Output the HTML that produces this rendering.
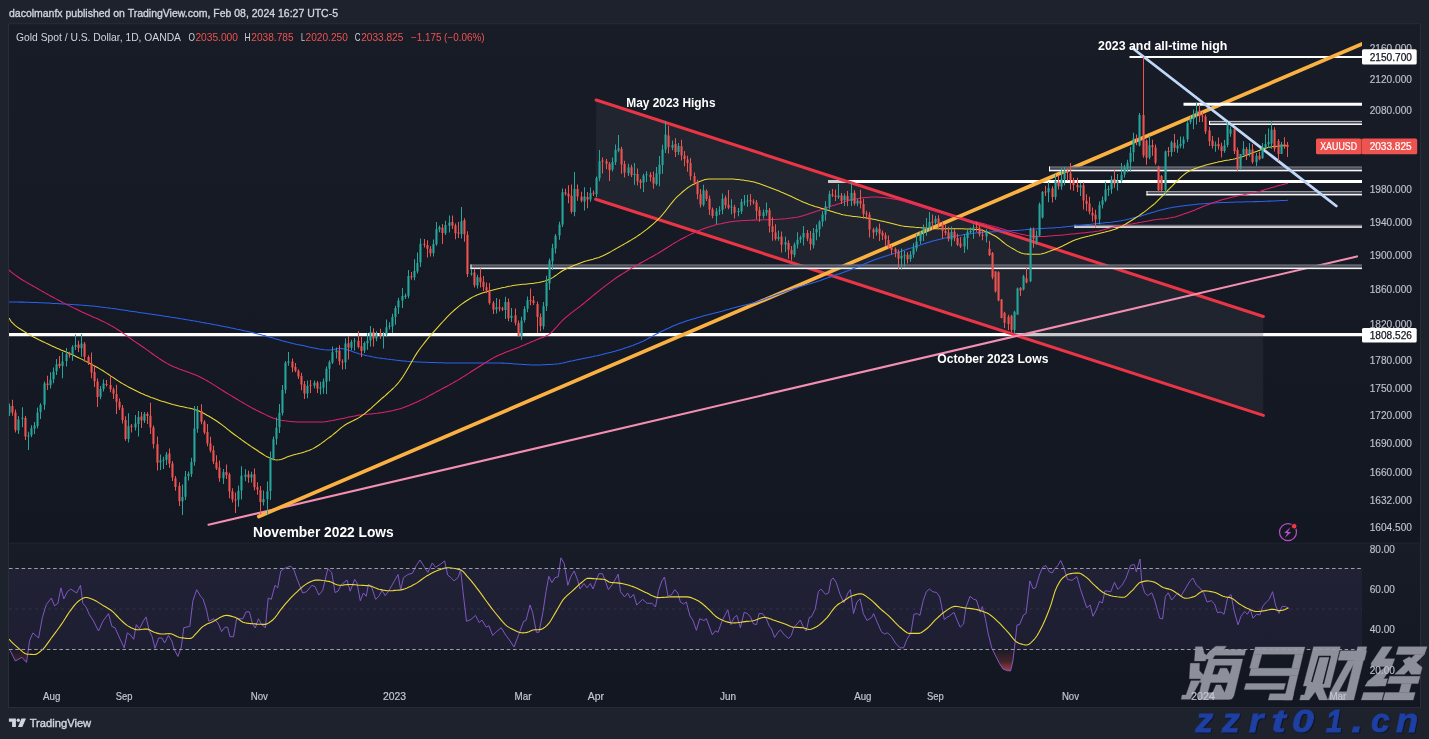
<!DOCTYPE html>
<html><head><meta charset="utf-8"><title>XAUUSD chart</title>
<style>
html,body{margin:0;padding:0;background:#1e222d;}
body{width:1429px;height:739px;overflow:hidden;position:relative;font-family:"Liberation Sans", sans-serif;}
</style></head><body>
<svg width="1429" height="739" viewBox="0 0 1429 739" style="position:absolute;left:0;top:0;display:block;will-change:transform"><rect x="0" y="0" width="1429" height="739" fill="#1e222d"/>
<defs><linearGradient id="gm" x1="0" y1="24.5" x2="0" y2="542.5" gradientUnits="userSpaceOnUse"><stop offset="0" stop-color="#181c27"/><stop offset="1" stop-color="#131722"/></linearGradient><linearGradient id="gr" x1="0" y1="543" x2="0" y2="683" gradientUnits="userSpaceOnUse"><stop offset="0" stop-color="#181c27"/><stop offset="1" stop-color="#131722"/></linearGradient></defs>
<rect x="8.5" y="24.0" width="1412.0" height="683.6" fill="#131722" stroke="#2a2e39" stroke-width="1"/>
<rect x="9.0" y="24.5" width="1411.0" height="518.0" fill="url(#gm)"/>
<rect x="9.0" y="543" width="1411.0" height="140" fill="url(#gr)"/>
<line x1="9.0" y1="543" x2="1420.0" y2="543" stroke="#2a2e39" stroke-opacity="0.55" stroke-width="1"/>
<rect x="9.0" y="568.5" width="1353.0" height="81" fill="#7e57c2" fill-opacity="0.10"/>
<defs><clipPath id="plot"><rect x="9" y="25" width="1353" height="517.5"/></clipPath><clipPath id="rsi"><rect x="9" y="543" width="1353" height="140"/></clipPath><linearGradient id="os" x1="0" y1="649.5" x2="0" y2="672" gradientUnits="userSpaceOnUse"><stop offset="0" stop-color="#ef5350" stop-opacity="0.03"/><stop offset="0.55" stop-color="#ef5350" stop-opacity="0.22"/><stop offset="1" stop-color="#ef5350" stop-opacity="0.72"/></linearGradient></defs>
<g clip-path="url(#plot)">
<line x1="8.5" y1="334.6" x2="1362" y2="334.6" stroke="#ffffff" stroke-width="3.2"/>
<line x1="1129.5" y1="57" x2="1362" y2="57" stroke="#ffffff" stroke-width="1.9"/>
<line x1="828" y1="181.5" x2="1362" y2="181.5" stroke="#ffffff" stroke-width="3.1"/>
<polygon points="596.2,100 1263.3,316.5 1263.3,415.4 595.7,199.2" fill="#3c3f4a" fill-opacity="0.28"/>
<line x1="596.2" y1="100.0" x2="1263.3" y2="316.5" stroke="#ea3546" stroke-width="3.1" stroke-linecap="round"/>
<line x1="595.7" y1="199.2" x2="1263.3" y2="415.4" stroke="#ea3546" stroke-width="3.1" stroke-linecap="round"/>
<line x1="208.5" y1="524.8" x2="1357" y2="256.4" stroke="#f48fb1" stroke-width="2.1" stroke-linecap="round"/>
<line x1="258.8" y1="516.5" x2="1362" y2="43.9" stroke="#fbb142" stroke-width="3.7" stroke-linecap="round"/>
<line x1="1183.5" y1="104.3" x2="1362" y2="104.3" stroke="#ffffff" stroke-width="3"/>
<rect x="1209" y="120.9" width="153" height="4.1" fill="#4c4f5a" fill-opacity="0.93"/>
<rect x="1209" y="123.5" width="153" height="1.5" fill="#ffffff" fill-opacity="0.95"/>
<rect x="1209" y="120.9" width="153" height="1" fill="#ffffff" fill-opacity="0.7"/>
<rect x="1209" y="120.9" width="1" height="4.1" fill="#ffffff"/>
<rect x="1049" y="166.5" width="313" height="4.8" fill="#4c4f5a" fill-opacity="0.93"/>
<rect x="1049" y="169.8" width="313" height="1.5" fill="#ffffff" fill-opacity="0.95"/>
<rect x="1049" y="166.5" width="313" height="1" fill="#ffffff" fill-opacity="0.3"/>
<rect x="1049" y="166.5" width="1" height="4.8" fill="#ffffff"/>
<rect x="1146.5" y="191.1" width="215.5" height="4.3" fill="#4c4f5a" fill-opacity="0.93"/>
<rect x="1146.5" y="193.9" width="215.5" height="1.5" fill="#ffffff" fill-opacity="0.95"/>
<rect x="1146.5" y="191.1" width="215.5" height="1" fill="#ffffff" fill-opacity="0.5"/>
<rect x="1146.5" y="191.1" width="1" height="4.3" fill="#ffffff"/>
<rect x="1074.5" y="224.8" width="287.5" height="3" fill="#4c4f5a" fill-opacity="0.93"/>
<rect x="1074.5" y="226.3" width="287.5" height="1.5" fill="#ffffff" fill-opacity="0.95"/>
<rect x="1074.5" y="224.8" width="287.5" height="1" fill="#ffffff" fill-opacity="0.3"/>
<rect x="1074.5" y="224.8" width="1" height="3" fill="#ffffff"/>
<rect x="470.5" y="264.5" width="891.5" height="4.6" fill="#4c4f5a" fill-opacity="0.93"/>
<rect x="470.5" y="267.6" width="891.5" height="1.5" fill="#ffffff" fill-opacity="0.95"/>
<rect x="470.5" y="264.5" width="891.5" height="1" fill="#ffffff" fill-opacity="0.3"/>
<rect x="470.5" y="264.5" width="1" height="4.6" fill="#ffffff"/>
<line x1="1133" y1="48.5" x2="1336.3" y2="206" stroke="#c0d8f7" stroke-width="2.8" stroke-linecap="round"/>
<polyline points="9,302 11,302 13,302 15,302 17,302 19,302.1 21,302.1 23,302.1 25,302.2 27,302.2 29,302.3 31,302.4 33,302.4 35,302.5 37,302.6 39,302.7 41,302.8 43,302.8 45,302.9 47,303 49,303.1 51,303.2 53,303.4 55,303.5 57,303.6 59,303.7 61,303.8 63,303.9 65,304.1 67,304.2 69,304.3 71,304.4 73,304.6 75,304.7 77,304.8 79,304.9 81,305.1 83,305.2 85,305.4 87,305.5 89,305.7 91,305.9 93,306.1 95,306.3 97,306.5 99,306.7 101,307 103,307.2 105,307.5 107,307.7 109,308 111,308.3 113,308.5 115,308.8 117,309.1 119,309.4 121,309.7 123,310 125,310.3 127,310.6 129,310.9 131,311.2 133,311.5 135,311.8 137,312.1 139,312.4 141,312.7 143,313 145,313.3 147,313.6 149,313.9 151,314.1 153,314.4 155,314.7 157,315 159,315.3 161,315.6 163,315.9 165,316.2 167,316.5 169,316.8 171,317.2 173,317.5 175,317.8 177,318.1 179,318.4 181,318.8 183,319.1 185,319.4 187,319.8 189,320.1 191,320.4 193,320.8 195,321.1 197,321.5 199,321.8 201,322.2 203,322.5 205,322.9 207,323.3 209,323.6 211,324 213,324.4 215,324.8 217,325.1 219,325.5 221,325.9 223,326.3 225,326.7 227,327.1 229,327.5 231,327.9 233,328.3 235,328.7 237,329.2 239,329.6 241,330 243,330.4 245,330.9 247,331.3 249,331.8 251,332.2 253,332.7 255,333.2 257,333.7 259,334.2 261,334.7 263,335.3 265,335.8 267,336.4 269,337 271,337.5 273,338.1 275,338.7 277,339.2 279,339.8 281,340.4 283,340.9 285,341.4 287,342 289,342.5 291,343 293,343.5 295,343.9 297,344.4 299,344.8 301,345.2 303,345.6 305,346.1 307,346.5 309,347 311,347.4 313,347.8 315,348.2 317,348.6 319,349 321,349.3 323,349.6 325,349.8 327,349.9 329,350 331,350 333,349.7 335,349.2 337,348.8 339,348.5 341,348.5 343,348.7 345,349.1 347,349.7 349,350.3 351,351 353,351.7 355,352.5 357,353.1 359,353.7 361,354.2 363,354.7 365,355.2 367,355.7 369,356.1 371,356.6 373,357 375,357.3 377,357.7 379,358 381,358.3 383,358.6 385,358.8 387,359.1 389,359.3 391,359.6 393,359.8 395,360.1 397,360.3 399,360.5 401,360.7 403,360.9 405,361.1 407,361.3 409,361.4 411,361.6 413,361.7 415,361.8 417,361.9 419,362 421,362.1 423,362.2 425,362.2 427,362.3 429,362.4 431,362.5 433,362.5 435,362.6 437,362.7 439,362.7 441,362.8 443,362.8 445,362.9 447,362.9 449,362.9 451,363 453,363 455,363 457,363 459,363 461,363 463,363 465,363 467,363 469,363 471,363 473,363 475,363 477,363 479,363 481,363 483,363 485,363 487,363 489,363 491,363 493,363 495,363 497,363 499,363 501,363.1 503,363.1 505,363.2 507,363.3 509,363.5 511,363.6 513,363.7 515,363.9 517,364 519,364.2 521,364.3 523,364.5 525,364.6 527,364.7 529,364.8 531,364.9 533,365 535,365 537,365 539,365 541,364.9 543,364.8 545,364.8 547,364.6 549,364.5 551,364.4 553,364.2 555,364.1 557,363.9 559,363.7 561,363.3 563,363 565,362.5 567,362.1 569,361.6 571,361.1 573,360.7 575,360.2 577,359.8 579,359.4 581,359 583,358.6 585,358.2 587,357.8 589,357.4 591,357 593,356.6 595,356.1 597,355.7 599,355.2 601,354.8 603,354.3 605,353.8 607,353.3 609,352.8 611,352.3 613,351.7 615,351.2 617,350.6 619,350 621,349.4 623,348.8 625,348.1 627,347.5 629,346.8 631,346.1 633,345.4 635,344.6 637,343.8 639,343 641,342.1 643,341.2 645,340.2 647,339.1 649,338 651,336.9 653,335.9 655,334.8 657,333.7 659,332.8 661,331.8 663,330.8 665,329.8 667,328.8 669,327.9 671,327 673,326.1 675,325.2 677,324.4 679,323.6 681,322.9 683,322.2 685,321.5 687,320.8 689,320.2 691,319.6 693,319 695,318.4 697,317.8 699,317.2 701,316.7 703,316.1 705,315.6 707,315.1 709,314.6 711,314.1 713,313.6 715,313 717,312.5 719,312 721,311.4 723,310.9 725,310.3 727,309.7 729,309.2 731,308.6 733,308.1 735,307.5 737,307 739,306.5 741,306 743,305.5 745,305 747,304.5 749,304.1 751,303.6 753,303 755,302.5 757,301.9 759,301.3 761,300.6 763,299.9 765,299.1 767,298.4 769,297.6 771,296.9 773,296.1 775,295.4 777,294.6 779,293.9 781,293.2 783,292.5 785,291.8 787,291.1 789,290.4 791,289.7 793,289 795,288.3 797,287.7 799,287 801,286.4 803,285.8 805,285.2 807,284.6 809,284 811,283.4 813,282.8 815,282.2 817,281.5 819,280.9 821,280.2 823,279.5 825,278.8 827,278.1 829,277.4 831,276.7 833,276 835,275.3 837,274.6 839,273.9 841,273.2 843,272.5 845,271.7 847,271 849,270.3 851,269.5 853,268.8 855,268 857,267.2 859,266.4 861,265.5 863,264.6 865,263.7 867,262.8 869,262 871,261.2 873,260.4 875,259.6 877,258.9 879,258.2 881,257.6 883,256.9 885,256.3 887,255.7 889,255.1 891,254.5 893,253.8 895,253.2 897,252.5 899,251.9 901,251.2 903,250.6 905,249.9 907,249.2 909,248.6 911,248 913,247.3 915,246.7 917,246 919,245.4 921,244.7 923,244.1 925,243.4 927,242.8 929,242.2 931,241.6 933,241 935,240.4 937,239.9 939,239.4 941,238.9 943,238.5 945,238.1 947,237.7 949,237.3 951,236.9 953,236.5 955,236.2 957,235.8 959,235.5 961,235.2 963,234.8 965,234.5 967,234.2 969,233.9 971,233.6 973,233.3 975,233.1 977,232.8 979,232.7 981,232.5 983,232.4 985,232.2 987,232.1 989,232 991,231.9 993,231.8 995,231.7 997,231.6 999,231.4 1001,231.3 1003,231.2 1005,231.1 1007,231 1009,230.9 1011,230.7 1013,230.6 1015,230.5 1017,230.4 1019,230.2 1021,230.1 1023,229.9 1025,229.8 1027,229.6 1029,229.4 1031,229.3 1033,229.1 1035,229 1037,228.8 1039,228.7 1041,228.6 1043,228.5 1045,228.3 1047,228.2 1049,228.1 1051,228 1053,227.9 1055,227.7 1057,227.6 1059,227.4 1061,227.3 1063,227.1 1065,226.9 1067,226.6 1069,226.4 1071,226.2 1073,226 1075,225.8 1077,225.6 1079,225.4 1081,225.2 1083,225 1085,224.8 1087,224.6 1089,224.4 1091,224.2 1093,224 1095,223.8 1097,223.6 1099,223.4 1101,223.2 1103,223 1105,222.8 1107,222.6 1109,222.4 1111,222.2 1113,221.9 1115,221.6 1117,221.4 1119,221 1121,220.7 1123,220.3 1125,219.9 1127,219.4 1129,219 1131,218.5 1133,218 1135,217.5 1137,217 1139,216.5 1141,215.9 1143,215.3 1145,214.7 1147,214 1149,213.4 1151,212.8 1153,212.2 1155,211.7 1157,211.1 1159,210.6 1161,210 1163,209.5 1165,209 1167,208.5 1169,208 1171,207.7 1173,207.3 1175,207 1177,206.7 1179,206.4 1181,206.1 1183,205.9 1185,205.6 1187,205.4 1189,205.1 1191,204.9 1193,204.7 1195,204.5 1197,204.3 1199,204.1 1201,203.9 1203,203.7 1205,203.6 1207,203.4 1209,203.3 1211,203.2 1213,203 1215,202.9 1217,202.8 1219,202.7 1221,202.6 1223,202.5 1225,202.5 1227,202.4 1229,202.3 1231,202.2 1233,202.2 1235,202.1 1237,202 1239,202 1241,201.9 1243,201.9 1245,201.8 1247,201.8 1249,201.8 1251,201.7 1253,201.7 1255,201.6 1257,201.6 1259,201.5 1261,201.4 1263,201.4 1265,201.3 1267,201.2 1269,201.1 1271,201.1 1273,201 1275,200.9 1277,200.8 1279,200.7 1281,200.6 1283,200.5 1285,200.4 1287,200.3 1288,200.2" fill="none" stroke="#2b62f0" stroke-width="1.05" stroke-linejoin="round"/>
<polyline points="9,270 11,271.8 13,273.4 15,274.9 17,276.3 19,277.7 21,279 23,280.2 25,281.4 27,282.6 29,283.8 31,284.9 33,286 35,287.1 37,288.3 39,289.4 41,290.6 43,291.7 45,292.9 47,294 49,295.1 51,296.2 53,297.3 55,298.4 57,299.4 59,300.5 61,301.5 63,302.6 65,303.6 67,304.6 69,305.6 71,306.6 73,307.6 75,308.6 77,309.5 79,310.5 81,311.5 83,312.4 85,313.3 87,314.2 89,315.1 91,316 93,316.9 95,317.8 97,318.6 99,319.5 101,320.5 103,321.4 105,322.4 107,323.4 109,324.5 111,325.6 113,326.7 115,327.9 117,329.2 119,330.5 121,331.8 123,333.2 125,334.6 127,336 129,337.4 131,338.8 133,340.2 135,341.6 137,343 139,344.3 141,345.7 143,347 145,348.4 147,349.9 149,351.3 151,352.8 153,354.2 155,355.6 157,357 159,358.4 161,359.7 163,361 165,362.2 167,363.4 169,364.5 171,365.5 173,366.4 175,367.3 177,368.1 179,368.9 181,369.6 183,370.4 185,371.1 187,371.8 189,372.5 191,373.2 193,374 195,374.8 197,375.6 199,376.5 201,377.5 203,378.5 205,379.6 207,380.7 209,381.9 211,383.1 213,384.4 215,385.6 217,386.9 219,388.2 221,389.4 223,390.7 225,392 227,393.2 229,394.4 231,395.6 233,396.8 235,398 237,399.2 239,400.4 241,401.6 243,402.8 245,403.9 247,405.1 249,406.3 251,407.4 253,408.5 255,409.5 257,410.6 259,411.5 261,412.5 263,413.4 265,414.4 267,415.4 269,416.3 271,417.2 273,418 275,418.7 277,419.3 279,419.8 281,420.2 283,420.5 285,420.8 287,421 289,421.3 291,421.5 293,421.7 295,421.8 297,421.9 299,422 301,422 303,422 305,422 307,422 309,422 311,422 313,422 315,422 317,422 319,422 321,422 323,421.9 325,421.7 327,421.4 329,421.1 331,420.7 333,420.4 335,420 337,419.6 339,419.2 341,418.8 343,418.4 345,418 347,417.6 349,417.1 351,416.7 353,416.3 355,415.9 357,415.5 359,415.1 361,414.9 363,414.6 365,414.4 367,414.2 369,414 371,413.9 373,413.7 375,413.5 377,413.3 379,413 381,412.7 383,412.4 385,412.1 387,411.7 389,411.3 391,410.9 393,410.5 395,410 397,409.5 399,409 401,408.4 403,407.8 405,407.1 407,406.3 409,405.5 411,404.6 413,403.7 415,402.8 417,401.9 419,401 421,400.1 423,399.1 425,398.1 427,397 429,395.9 431,394.8 433,393.7 435,392.6 437,391.5 439,390.5 441,389.4 443,388.3 445,387.2 447,386.2 449,385.1 451,384 453,382.9 455,381.7 457,380.6 459,379.4 461,378.2 463,376.9 465,375.7 467,374.4 469,373.1 471,371.8 473,370.5 475,369.2 477,368 479,366.8 481,365.5 483,364.2 485,362.9 487,361.7 489,360.4 491,359.2 493,358.1 495,357 497,356 499,355.1 501,354.2 503,353.4 505,352.6 507,351.8 509,351.1 511,350.3 513,349.6 515,348.8 517,348 519,347.2 521,346.3 523,345.5 525,344.7 527,343.8 529,343 531,342.1 533,341.3 535,340.4 537,339.6 539,338.8 541,338.1 543,337.4 545,336.5 547,335.6 549,334.4 551,332.8 553,330.9 555,328.7 557,326.5 559,324.2 561,322 563,319.9 565,318.1 567,316.4 569,314.8 571,313.2 573,311.7 575,310.2 577,308.7 579,307.1 581,305.6 583,304 585,302.4 587,300.7 589,299 591,297.4 593,295.7 595,294 597,292.4 599,290.8 601,289.2 603,287.7 605,286.1 607,284.6 609,283.1 611,281.6 613,280.2 615,278.7 617,277.3 619,276 621,274.7 623,273.4 625,272.2 627,271 629,269.8 631,268.6 633,267.5 635,266.3 637,265.2 639,264 641,262.8 643,261.7 645,260.6 647,259.5 649,258.4 651,257.3 653,256.2 655,255 657,253.9 659,252.7 661,251.5 663,250.3 665,249 667,247.7 669,246.4 671,245.2 673,243.9 675,242.7 677,241.6 679,240.4 681,239.3 683,238.3 685,237.2 687,236.1 689,235.1 691,234.1 693,233.2 695,232.3 697,231.4 699,230.6 701,229.8 703,229 705,228.3 707,227.6 709,226.9 711,226.3 713,225.7 715,225.1 717,224.6 719,224.1 721,223.7 723,223.2 725,222.8 727,222.4 729,222 731,221.7 733,221.4 735,221.2 737,221 739,220.9 741,220.7 743,220.6 745,220.5 747,220.4 749,220.3 751,220.2 753,220.1 755,220.1 757,220 759,219.9 761,219.9 763,219.8 765,219.8 767,219.7 769,219.7 771,219.6 773,219.5 775,219.4 777,219.3 779,219.2 781,219.1 783,218.9 785,218.8 787,218.6 789,218.3 791,218.1 793,217.8 795,217.5 797,217.2 799,216.8 801,216.3 803,215.8 805,215.1 807,214.5 809,213.8 811,213.1 813,212.4 815,211.7 817,211.1 819,210.4 821,209.7 823,209 825,208.4 827,207.7 829,207 831,206.3 833,205.6 835,205 837,204.3 839,203.7 841,203 843,202.3 845,201.6 847,200.9 849,200.3 851,199.8 853,199.4 855,199 857,198.7 859,198.4 861,198.1 863,197.8 865,197.6 867,197.4 869,197.2 871,197.1 873,197 875,197 877,197 879,197.2 881,197.3 883,197.5 885,197.7 887,198 889,198.3 891,198.6 893,198.9 895,199.2 897,199.5 899,200 901,200.5 903,201.1 905,201.7 907,202.3 909,203 911,203.6 913,204.2 915,204.8 917,205.4 919,206 921,206.7 923,207.3 925,208 927,208.6 929,209.3 931,209.9 933,210.5 935,211.1 937,211.7 939,212.3 941,212.9 943,213.4 945,214 947,214.6 949,215.1 951,215.7 953,216.2 955,216.7 957,217.3 959,217.8 961,218.3 963,218.8 965,219.3 967,219.8 969,220.2 971,220.7 973,221.2 975,221.6 977,222.1 979,222.6 981,223.1 983,223.6 985,224.1 987,224.7 989,225.2 991,225.7 993,226.2 995,226.8 997,227.3 999,227.9 1001,228.5 1003,229.1 1005,229.8 1007,230.4 1009,231.1 1011,231.7 1013,232.3 1015,232.8 1017,233.3 1019,233.8 1021,234.2 1023,234.6 1025,235 1027,235.4 1029,235.8 1031,236.1 1033,236.4 1035,236.5 1037,236.6 1039,236.6 1041,236.5 1043,236.5 1045,236.4 1047,236.2 1049,236.1 1051,236 1053,235.8 1055,235.6 1057,235.5 1059,235.3 1061,235.2 1063,235 1065,234.8 1067,234.6 1069,234.3 1071,234.1 1073,233.9 1075,233.7 1077,233.5 1079,233.3 1081,233.1 1083,232.9 1085,232.7 1087,232.5 1089,232.3 1091,232.1 1093,231.9 1095,231.6 1097,231.3 1099,231 1101,230.5 1103,230 1105,229.4 1107,228.8 1109,228.3 1111,227.7 1113,227.2 1115,226.7 1117,226.3 1119,225.9 1121,225.6 1123,225.2 1125,224.9 1127,224.6 1129,224.3 1131,224 1133,223.7 1135,223.3 1137,223 1139,222.6 1141,222.3 1143,221.9 1145,221.5 1147,221.2 1149,220.8 1151,220.4 1153,220.1 1155,219.8 1157,219.6 1159,219.3 1161,219.1 1163,218.9 1165,218.7 1167,218.4 1169,218.1 1171,217.8 1173,217.3 1175,216.9 1177,216.3 1179,215.7 1181,215 1183,214.3 1185,213.6 1187,212.9 1189,212.2 1191,211.5 1193,210.7 1195,209.9 1197,209.1 1199,208.2 1201,207.4 1203,206.6 1205,205.8 1207,205.1 1209,204.3 1211,203.6 1213,202.8 1215,202.1 1217,201.4 1219,200.8 1221,200.1 1223,199.6 1225,199 1227,198.5 1229,198 1231,197.5 1233,197 1235,196.6 1237,196.1 1239,195.7 1241,195.3 1243,194.9 1245,194.5 1247,194.1 1249,193.7 1251,193.4 1253,192.9 1255,192.5 1257,192 1259,191.5 1261,190.9 1263,190.2 1265,189.6 1267,189 1269,188.4 1271,187.8 1273,187.2 1275,186.7 1277,186.1 1279,185.6 1281,185.1 1283,184.5 1285,184 1287,183.5 1288,183.3" fill="none" stroke="#e0226a" stroke-width="1.05" stroke-linejoin="round"/>
<polyline points="9,318 11,321.3 13,323.4 15,325.3 17,326.9 19,328.3 21,329.5 23,330.8 25,332 27,333.3 29,334.4 31,335.6 33,336.7 35,337.7 37,338.8 39,339.8 41,340.7 43,341.7 45,342.6 47,343.6 49,344.5 51,345.5 53,346.4 55,347.3 57,348.2 59,349 61,349.9 63,350.7 65,351.6 67,352.4 69,353.3 71,354.2 73,355.1 75,356 77,357 79,357.9 81,358.9 83,359.9 85,360.9 87,361.9 89,363 91,364 93,365.1 95,366.2 97,367.3 99,368.4 101,369.6 103,370.8 105,372.1 107,373.4 109,374.7 111,376.1 113,377.4 115,378.8 117,380.1 119,381.4 121,382.7 123,383.9 125,385 127,386.1 129,387.2 131,388.2 133,389.3 135,390.3 137,391.3 139,392.2 141,393.2 143,394.1 145,395 147,395.8 149,396.6 151,397.4 153,398.1 155,398.8 157,399.5 159,400.2 161,400.9 163,401.5 165,402.1 167,402.7 169,403.3 171,403.9 173,404.5 175,405 177,405.5 179,406 181,406.4 183,406.8 185,407.2 187,407.7 189,408.1 191,408.6 193,409.1 195,409.7 197,410.3 199,411.1 201,412 203,413 205,414 207,415.2 209,416.3 211,417.5 213,418.8 215,420 217,421.3 219,422.7 221,424.1 223,425.7 225,427.2 227,428.8 229,430.4 231,432 233,433.5 235,435 237,436.4 239,437.9 241,439.3 243,440.8 245,442.2 247,443.6 249,445 251,446.4 253,447.7 255,449 257,450.3 259,451.7 261,453 263,454.3 265,455.6 267,456.7 269,457.6 271,458.4 273,459.2 275,459.8 277,460 279,459.8 281,459.4 283,458.7 285,457.9 287,457.1 289,456.3 291,455.7 293,455.1 295,454.6 297,454.1 299,453.5 301,453 303,452.4 305,451.8 307,451.1 309,450.4 311,449.6 313,448.6 315,447.5 317,446.3 319,445 321,443.6 323,442.1 325,440.7 327,439.2 329,437.7 331,436.3 333,434.7 335,433 337,431.3 339,429.6 341,427.9 343,426.4 345,425 347,423.8 349,422.7 351,421.7 353,420.8 355,419.8 357,418.8 359,417.6 361,416.3 363,414.9 365,413.4 367,411.7 369,410 371,408.3 373,406.4 375,404.6 377,402.8 379,401 381,399.2 383,397.5 385,395.8 387,394 389,392.2 391,390.4 393,388.5 395,386.5 397,384.3 399,382 401,379.4 403,376.5 405,373.3 407,369.9 409,366.5 411,362.9 413,359.5 415,356.1 417,352.9 419,350 421,347.3 423,344.7 425,342.1 427,339.6 429,337.2 431,334.9 433,332.6 435,330.3 437,328.1 439,325.9 441,323.7 443,321.5 445,319.4 447,317.2 449,315.2 451,313.2 453,311.3 455,309.5 457,307.8 459,306.2 461,304.7 463,303.2 465,301.8 467,300.5 469,299.2 471,298 473,296.9 475,295.9 477,295 479,294.2 481,293.5 483,292.8 485,292.2 487,291.6 489,291 491,290.5 493,290 495,289.5 497,289 499,288.5 501,288.1 503,287.6 505,287.2 507,286.7 509,286.3 511,286 513,285.6 515,285.3 517,285 519,284.7 521,284.5 523,284.3 525,284.2 527,284 529,283.8 531,283.6 533,283.4 535,283.1 537,282.8 539,282.5 541,282 543,281.5 545,281 547,280.3 549,279.6 551,278.6 553,277.4 555,276 557,274.6 559,273.1 561,271.8 563,270.5 565,269.5 567,268.5 569,267.6 571,266.7 573,265.8 575,265 577,264.2 579,263.4 581,262.7 583,262 585,261.3 587,260.8 589,260.2 591,259.7 593,259.2 595,258.6 597,258 599,257.4 601,256.6 603,255.8 605,254.8 607,253.8 609,252.7 611,251.6 613,250.4 615,249.3 617,248.1 619,247 621,245.9 623,244.8 625,243.6 627,242.5 629,241.3 631,240.1 633,238.9 635,237.7 637,236.4 639,235 641,233.6 643,232.1 645,230.6 647,229.1 649,227.5 651,225.8 653,224.1 655,222.3 657,220.4 659,218.5 661,216.4 663,214 665,211.6 667,209 669,206.4 671,203.8 673,201.4 675,199 677,196.9 679,195.1 681,193.3 683,191.5 685,189.9 687,188.3 689,186.9 691,185.6 693,184.5 695,183.5 697,182.6 699,181.8 701,180.9 703,180.2 705,179.6 707,179.2 709,179 711,179 713,179 715,179 717,179 719,179 721,179 723,179 725,179 727,179 729,179 731,179 733,179.1 735,179.2 737,179.4 739,179.6 741,179.9 743,180.1 745,180.4 747,180.7 749,181 751,181.4 753,181.8 755,182.3 757,182.9 759,183.6 761,184.3 763,185 765,185.7 767,186.5 769,187.2 771,187.9 773,188.7 775,189.5 777,190.3 779,191.1 781,192 783,192.8 785,193.7 787,194.6 789,195.4 791,196.3 793,197.3 795,198.2 797,199.2 799,200.1 801,201.1 803,202 805,202.8 807,203.6 809,204.4 811,205.1 813,205.7 815,206.4 817,207 819,207.6 821,208.2 823,208.8 825,209.4 827,210 829,210.6 831,211.2 833,211.8 835,212.4 837,213.1 839,213.6 841,214.2 843,214.7 845,215.1 847,215.5 849,215.8 851,216.1 853,216.4 855,216.6 857,216.8 859,217 861,217.3 863,217.5 865,217.8 867,218.1 869,218.4 871,218.8 873,219.2 875,219.6 877,220 879,220.5 881,220.9 883,221.3 885,221.8 887,222.2 889,222.7 891,223.2 893,223.7 895,224.2 897,224.8 899,225.2 901,225.7 903,226.1 905,226.4 907,226.6 909,226.8 911,227 913,227.1 915,227.3 917,227.4 919,227.6 921,227.7 923,227.9 925,228 927,228.2 929,228.3 931,228.5 933,228.6 935,228.7 937,228.8 939,228.8 941,228.8 943,228.8 945,228.8 947,228.8 949,228.8 951,228.8 953,228.8 955,228.8 957,228.8 959,228.8 961,228.8 963,228.8 965,228.9 967,228.9 969,229 971,229.1 973,229.2 975,229.4 977,229.5 979,229.6 981,230 983,230.5 985,231.2 987,232.1 989,233 991,234 993,235 995,236 997,237.3 999,238.7 1001,240.3 1003,242 1005,243.6 1007,245.1 1009,246.4 1011,247.6 1013,248.7 1015,249.9 1017,251.1 1019,252.1 1021,253 1023,253.6 1025,254 1027,254.1 1029,254.1 1031,254.2 1033,254.3 1035,254.3 1037,254.3 1039,254.2 1041,254 1043,253.5 1045,253 1047,252.3 1049,251.6 1051,250.8 1053,250 1055,249.2 1057,248.4 1059,247.6 1061,246.7 1063,245.8 1065,244.8 1067,243.8 1069,242.7 1071,241.8 1073,240.8 1075,240 1077,239.3 1079,238.7 1081,238.1 1083,237.5 1085,237 1087,236.5 1089,236.1 1091,235.6 1093,235.1 1095,234.6 1097,234 1099,233.5 1101,233 1103,232.5 1105,232.1 1107,231.5 1109,231 1111,230.4 1113,229.8 1115,229.2 1117,228.4 1119,227.6 1121,226.6 1123,225.6 1125,224.4 1127,223.2 1129,222 1131,220.8 1133,219.5 1135,218.2 1137,216.9 1139,215.6 1141,214.2 1143,212.8 1145,211.3 1147,209.8 1149,208.2 1151,206.6 1153,205 1155,203.3 1157,201.4 1159,199.4 1161,197.4 1163,195.3 1165,193.2 1167,191.2 1169,189.2 1171,187.2 1173,185.2 1175,183.2 1177,181.1 1179,179.1 1181,177.2 1183,175.4 1185,173.8 1187,172.4 1189,171.3 1191,170.3 1193,169.4 1195,168.6 1197,167.9 1199,167.2 1201,166.5 1203,165.9 1205,165.3 1207,164.7 1209,164.2 1211,163.7 1213,163.2 1215,162.7 1217,162.3 1219,161.8 1221,161.4 1223,161 1225,160.6 1227,160.2 1229,159.9 1231,159.5 1233,159.2 1235,158.8 1237,158.3 1239,157.8 1241,157.2 1243,156.6 1245,155.8 1247,155 1249,154.2 1251,153.4 1253,152.6 1255,151.9 1257,151.3 1259,150.5 1261,149.8 1263,149.1 1265,148.4 1267,147.8 1269,147.3 1271,146.9 1273,146.6 1275,146.4 1277,146.2 1279,146.1 1281,145.9 1283,145.8 1285,145.7 1287,145.7 1288,145.7" fill="none" stroke="#ecd836" stroke-width="1.05" stroke-linejoin="round"/>
<path d="M12 399.8h1v16h-1zM11.4 406h2.1v6.5h-2.1zM15 409.5h1v22.9h-1zM14.4 412.6h2.1v17.4h-2.1zM25 416h1v24.1h-1zM24.4 418.1h2.1v18.3h-2.1zM47 375.8h1v14.1h-1zM46.5 383.5h2.1v1.5h-2.1zM59 356.1h1v12.2h-1zM58.5 363.8h2.1v2.1h-2.1zM69 351.7h1v6.1h-1zM68.5 354.3h2.1v1h-2.1zM78 340.7h1v11.4h-1zM77.5 344.4h2.1v3.6h-2.1zM84 341.9h1v19.5h-1zM83.5 343.7h2.1v13.1h-2.1zM88 355.3h1v9.8h-1zM87.5 356.9h2.1v6.4h-2.1zM91 352.5h1v25.8h-1zM90.5 363.5h2.1v9.1h-2.1zM94 366h1v21.1h-1zM93.5 372.1h2.1v9.2h-2.1zM97 378.5h1v28.5h-1zM96.5 381.6h2.1v15.5h-2.1zM106 380h1v6.4h-1zM105.5 383.9h2.1v1h-2.1zM110 375.2h1v17.1h-1zM109.5 385.1h2.1v4.2h-2.1zM113 387.6h1v11.5h-1zM112.5 389.2h2.1v4.6h-2.1zM116 384.7h1v29.2h-1zM115.5 394h2.1v7.7h-2.1zM119 398.6h1v11.5h-1zM118.5 401.8h2.1v5.8h-2.1zM122 405.1h1v18.5h-1zM121.5 407.8h2.1v12.2h-2.1zM125 416.3h1v24.5h-1zM124.5 420.1h2.1v18.8h-2.1zM131 424h1v8.4h-1zM130.4 425.7h2.1v1.1h-2.1zM141 412.1h1v16h-1zM140.4 416.4h2.1v3.8h-2.1zM147 412.3h1v11.6h-1zM146.4 414.1h2.1v1.8h-2.1zM150 402.8h1v31.2h-1zM149.4 415.8h2.1v11.8h-2.1zM153 425.4h1v23h-1zM152.4 427.5h2.1v16.5h-2.1zM157 436.4h1v34.2h-1zM156.4 444.3h2.1v18.4h-2.1zM169 448.6h1v19.1h-1zM168.4 453.5h2.1v10.1h-2.1zM172 460.9h1v20.1h-1zM171.4 463.4h2.1v14.1h-2.1zM175 476h1v14.7h-1zM174.4 478.3h2.1v8.6h-2.1zM179 482.3h1v23.8h-1zM178.4 485.9h2.1v15.4h-2.1zM201 404.3h1v20h-1zM200.4 410.8h2.1v10.9h-2.1zM204 420.2h1v14.1h-1zM203.4 421.8h2.1v10.6h-2.1zM207 424h1v22.2h-1zM206.4 432.1h2.1v11.4h-2.1zM210 436.7h1v15.9h-1zM209.4 443.5h2.1v7h-2.1zM213 445.8h1v18.3h-1zM212.4 450.3h2.1v11.2h-2.1zM216 455.3h1v14.8h-1zM215.4 462.2h2.1v6.2h-2.1zM219 460.5h1v21.2h-1zM218.4 467.4h2.1v10.8h-2.1zM226 464.5h1v14.6h-1zM225.4 472.1h2.1v3.2h-2.1zM229 472.8h1v25.5h-1zM228.4 474.6h2.1v16.9h-2.1zM232 488.3h1v14.3h-1zM231.4 491.2h2.1v8.3h-2.1zM235 492.4h1v20.6h-1zM234.4 499.5h2.1v1h-2.1zM248 470.8h1v11.9h-1zM247.4 474.6h2.1v2.8h-2.1zM254 468.6h1v21.6h-1zM253.4 474.3h2.1v12.9h-2.1zM257 482.2h1v12.5h-1zM256.4 487.2h2.1v2.4h-2.1zM260 485.9h1v28.4h-1zM259.4 490.1h2.1v11.9h-2.1zM292 358.6h1v13.6h-1zM291.4 361.5h2.1v6h-2.1zM295 363h1v9.2h-1zM294.4 367.1h2.1v3.6h-2.1zM298 369.3h1v9.6h-1zM297.4 370.8h2.1v5.8h-2.1zM301 372.8h1v17.5h-1zM300.4 376.1h2.1v8.3h-2.1zM304 380.9h1v18.2h-1zM303.4 384.3h2.1v9.3h-2.1zM310 380.1h1v13h-1zM309.4 384.8h2.1v1h-2.1zM317 381.1h1v12h-1zM316.4 382.8h2.1v5.6h-2.1zM339 345.3h1v19.8h-1zM338.4 350.4h2.1v10.9h-2.1zM342 359.3h1v10.1h-1zM341.4 361.4h2.1v1h-2.1zM348 336.1h1v23.5h-1zM347.4 343.2h2.1v4.2h-2.1zM358 331.3h1v17.3h-1zM357.4 340.8h2.1v6.1h-2.1zM361 337h1v20h-1zM360.4 346.2h2.1v4.9h-2.1zM373 328.3h1v18.3h-1zM372.4 331.9h2.1v6.6h-2.1zM380 328.8h1v9.9h-1zM379.4 333.3h2.1v2.5h-2.1zM411 271.9h1v7.8h-1zM410.4 276.2h2.1v1.1h-2.1zM424 238.9h1v8.5h-1zM423.4 243.8h2.1v1h-2.1zM427 240.3h1v17.2h-1zM426.4 245.1h2.1v3.6h-2.1zM430 246h1v10.5h-1zM429.4 248.7h2.1v4.6h-2.1zM442 224.1h1v20h-1zM441.4 227.8h2.1v5.2h-2.1zM452 215.5h1v13.6h-1zM451.4 222h2.1v3.8h-2.1zM455 223.6h1v15.7h-1zM454.4 225.6h2.1v7.6h-2.1zM458 222h1v16.1h-1zM457.4 232.6h2.1v1h-2.1zM464 218.3h1v23.5h-1zM463.4 220.2h2.1v14h-2.1zM467 231.2h1v45.9h-1zM466.4 234.7h2.1v39.4h-2.1zM474 268.8h1v18.6h-1zM473.4 272.5h2.1v12.7h-2.1zM480 268.2h1v19.3h-1zM479.4 277.6h2.1v4.6h-2.1zM483 275.9h1v15.1h-1zM482.4 281.8h2.1v5.1h-2.1zM486 282.5h1v10.8h-1zM485.4 287.2h2.1v3.4h-2.1zM489 283.1h1v21.7h-1zM488.4 290.5h2.1v12.6h-2.1zM493 301h1v13.1h-1zM492.4 302.9h2.1v6.5h-2.1zM499 299.3h1v12.1h-1zM498.4 307.3h2.1v1.3h-2.1zM502 306.7h1v4.4h-1zM501.4 308.3h2.1v1.3h-2.1zM508 298.6h1v22.6h-1zM507.4 302h2.1v16.2h-2.1zM515 308.5h1v17.1h-1zM514.5 315.2h2.1v7.6h-2.1zM518 320.4h1v15.9h-1zM517.5 322.9h2.1v13.4h-2.1zM530 288.4h1v16.9h-1zM529.5 300.1h2.1v1h-2.1zM533 296h1v9h-1zM532.5 300.5h2.1v2.5h-2.1zM537 301.5h1v31.5h-1zM536.5 304h2.1v12.9h-2.1zM540 313.5h1v17.9h-1zM539.5 317h2.1v9h-2.1zM565 188.7h1v6.9h-1zM564.5 192.5h2.1v1.2h-2.1zM568 185.3h1v18h-1zM567.5 193.8h2.1v2.4h-2.1zM571 184.5h1v29h-1zM570.5 195.7h2.1v16.1h-2.1zM577 184.5h1v16.2h-1zM576.5 189h2.1v7.5h-2.1zM581 191.8h1v10.4h-1zM580.5 196.7h2.1v3.9h-2.1zM587 192h1v16.2h-1zM586.5 196.9h2.1v2.7h-2.1zM593 190.5h1v5.5h-1zM592.5 192.8h2.1v1h-2.1zM602 157.5h1v15.9h-1zM601.5 160.4h2.1v1h-2.1zM606 159h1v9.9h-1zM605.5 161.2h2.1v2.5h-2.1zM609 162h1v19.1h-1zM608.5 163.8h2.1v6.4h-2.1zM621 146.8h1v26.9h-1zM620.5 148.9h2.1v15.5h-2.1zM624 160.7h1v16.8h-1zM623.5 163.9h2.1v8.8h-2.1zM631 164.8h1v12.1h-1zM630.5 167.3h2.1v7.7h-2.1zM637 168.5h1v17h-1zM636.5 174.1h2.1v7.1h-2.1zM640 178.9h1v9.8h-1zM639.5 180.8h2.1v2h-2.1zM650 172.2h1v9.3h-1zM649.5 174.7h2.1v2.3h-2.1zM653 171.6h1v17.1h-1zM652.5 177.2h2.1v6.3h-2.1zM668 125.7h1v27.8h-1zM667.5 135.5h2.1v11.6h-2.1zM675 138.2h1v18.9h-1zM674.5 144.1h2.1v8h-2.1zM681 139.8h1v20.6h-1zM680.5 146.3h2.1v9.1h-2.1zM684 151h1v15.2h-1zM683.5 155.4h2.1v3.7h-2.1zM687 155.8h1v15.9h-1zM686.5 159.4h2.1v3.6h-2.1zM690 158.1h1v22.1h-1zM689.5 163h2.1v13.2h-2.1zM694 172.4h1v12.8h-1zM693.5 176h2.1v6.4h-2.1zM697 179.8h1v19.5h-1zM696.5 182h2.1v12.3h-2.1zM700 189.1h1v18.5h-1zM699.5 194.2h2.1v10.3h-2.1zM706 189.2h1v11.7h-1zM705.5 190.9h2.1v8.1h-2.1zM709 195.4h1v19.6h-1zM708.5 198.8h2.1v10.8h-2.1zM712 207.4h1v10.8h-1zM711.5 209.3h2.1v6.8h-2.1zM725 195.5h1v13.1h-1zM724.5 197.7h2.1v7.3h-2.1zM728 190h1v19.3h-1zM727.5 204.7h2.1v3h-2.1zM734 204.8h1v13.6h-1zM733.5 207h2.1v5.7h-2.1zM750 194h1v11.5h-1zM749.5 200.3h2.1v1h-2.1zM753 199.2h1v5.2h-1zM752.5 201.6h2.1v1h-2.1zM756 200.1h1v19.2h-1zM755.5 202.3h2.1v8.4h-2.1zM759 206.7h1v15.1h-1zM758.5 210.2h2.1v5.8h-2.1zM769 207.9h1v24.6h-1zM768.5 210.2h2.1v15.8h-2.1zM772 217.3h1v23.4h-1zM771.5 226.2h2.1v5.8h-2.1zM775 224.2h1v16.4h-1zM774.5 232.6h2.1v6.5h-2.1zM781 231.4h1v21.2h-1zM780.5 236.6h2.1v8.1h-2.1zM788 240.3h1v18.4h-1zM787.5 243.1h2.1v6.6h-2.1zM791 246h1v14.6h-1zM790.5 250h2.1v4.2h-2.1zM807 229.9h1v11.3h-1zM806.5 232.9h2.1v5.5h-2.1zM810 231h1v19.2h-1zM809.5 238.4h2.1v5.6h-2.1zM832 189.1h1v8h-1zM831.5 194.5h2.1v1h-2.1zM835 189.4h1v11.7h-1zM834.5 195.8h2.1v1h-2.1zM841 192.9h1v11h-1zM840.5 195.5h2.1v5.4h-2.1zM847 191h1v15.3h-1zM846.5 195.9h2.1v4.7h-2.1zM854 190.2h1v15.4h-1zM853.5 192.7h2.1v10.7h-2.1zM860 189.7h1v18.8h-1zM859.5 200.7h2.1v3.1h-2.1zM863 198.7h1v20.1h-1zM862.5 204h2.1v10.1h-2.1zM866 210.7h1v8.6h-1zM865.5 213.5h2.1v1h-2.1zM869 211.9h1v25.5h-1zM868.5 214.8h2.1v14.6h-2.1zM873 227.8h1v10.9h-1zM872.5 229.4h2.1v3h-2.1zM879 223.6h1v17.4h-1zM878.5 228.7h2.1v4.9h-2.1zM882 230.5h1v9.6h-1zM881.5 232.8h2.1v2.6h-2.1zM885 232.5h1v13.3h-1zM884.5 235.2h2.1v4.1h-2.1zM888 235.5h1v13.6h-1zM887.5 239.9h2.1v7.1h-2.1zM891 245.2h1v9.4h-1zM890.5 246.9h2.1v3.1h-2.1zM895 247.5h1v9.8h-1zM894.5 249.1h2.1v2.9h-2.1zM898 249.6h1v19.7h-1zM897.5 251.8h2.1v7h-2.1zM907 252.2h1v11.3h-1zM906.5 254.7h2.1v4.5h-2.1zM932 214.6h1v15.4h-1zM931.5 221.4h2.1v1.3h-2.1zM938 215.2h1v14.3h-1zM937.5 218.5h2.1v5.4h-2.1zM942 221.1h1v17.7h-1zM941.5 224h2.1v6.8h-2.1zM945 224.7h1v10.9h-1zM944.5 231h2.1v1.9h-2.1zM948 226.7h1v14.7h-1zM947.5 232.5h2.1v6.6h-2.1zM954 229.1h1v12.1h-1zM953.5 231.7h2.1v6.5h-2.1zM957 233.7h1v12.3h-1zM956.5 238h2.1v6.5h-2.1zM960 237h1v11h-1zM959.5 243.4h2.1v3h-2.1zM976 221.9h1v9.9h-1zM975.5 226.9h2.1v1h-2.1zM979 225.5h1v11h-1zM978.5 227.7h2.1v6.6h-2.1zM982 229.2h1v11h-1zM981.5 234.7h2.1v1.1h-2.1zM989 240.7h1v15.2h-1zM988.5 248.8h2.1v6.1h-2.1zM992 251.9h1v27.4h-1zM991.5 252.9h2.1v24.3h-2.1zM995 271.2h1v21.3h-1zM994.5 271.2h2.1v20.3h-2.1zM998 271.2h1v30h-1zM997.5 272.2h2.1v28.4h-2.1zM1001 299.1h1v19.1h-1zM1000.5 299.6h2.1v18.3h-2.1zM1004 311.7h1v16.2h-1zM1003.5 312.7h2.1v10.1h-2.1zM1008 314.8h1v15.2h-1zM1007.5 316.8h2.1v7.1h-2.1zM1011 314.8h1v17.2h-1zM1010.5 315.8h2.1v14.2h-2.1zM1020 287h1v8.9h-1zM1019.5 288h2.1v2.4h-2.1zM1026 268.1h1v15.2h-1zM1025.5 278.3h2.1v4.1h-2.1zM1033 227.5h1v20.3h-1zM1032.5 229.6h2.1v9.1h-2.1zM1045 185.9h1v10.2h-1zM1044.5 191.5h2.1v1h-2.1zM1052 186.3h1v16.3h-1zM1051.5 188.5h2.1v8.4h-2.1zM1058 175.3h1v14.3h-1zM1057.5 181.5h2.1v4.8h-2.1zM1067 168.2h1v12.2h-1zM1066.5 171.3h2.1v1.5h-2.1zM1070 163h1v26.7h-1zM1069.5 173.2h2.1v6.5h-2.1zM1073 177.7h1v13h-1zM1072.5 179.9h2.1v5.1h-2.1zM1077 177.8h1v14.2h-1zM1076.5 185h2.1v2.3h-2.1zM1083 182.2h1v27.3h-1zM1082.5 185.2h2.1v15.4h-2.1zM1086 194.3h1v16.6h-1zM1085.5 200.8h2.1v3.3h-2.1zM1089 196.8h1v17.4h-1zM1088.5 203.6h2.1v8.1h-2.1zM1092 207.6h1v14h-1zM1091.5 212.7h2.1v2.7h-2.1zM1095 209.7h1v17.9h-1zM1094.5 214.7h2.1v4.7h-2.1zM1114 170.2h1v17.5h-1zM1113.5 179.1h2.1v4.3h-2.1zM1136 134.6h1v10.7h-1zM1135.5 137.9h2.1v1h-2.1zM1143 57.1h1v100.6h-1zM1142.5 115h2.1v40.6h-2.1zM1146 139.4h1v25.4h-1zM1145.5 140.4h2.1v17.3h-2.1zM1152 139.8h1v16h-1zM1151.5 145.3h2.1v2h-2.1zM1155 144.5h1v20.2h-1zM1154.5 147.6h2.1v15.2h-2.1zM1158 165.8h1v26.4h-1zM1157.5 166.8h2.1v23.4h-2.1zM1161 174.9h1v16.3h-1zM1160.5 176h2.1v14.2h-2.1zM1168 146.9h1v9.7h-1zM1167.5 151h2.1v1h-2.1zM1174 133.9h1v17.9h-1zM1173.5 142.8h2.1v4.9h-2.1zM1199 104.5h1v17.6h-1zM1198.5 110.5h2.1v5.4h-2.1zM1202 111.8h1v10.3h-1zM1201.5 115.6h2.1v1h-2.1zM1205 114.4h1v19.5h-1zM1204.5 116.4h2.1v15h-2.1zM1209 126.8h1v19.3h-1zM1208.5 130.5h2.1v10.7h-2.1zM1212 136.1h1v12.4h-1zM1211.5 140.6h2.1v5.2h-2.1zM1218 137.5h1v12.1h-1zM1217.5 144.1h2.1v2.1h-2.1zM1221 142.7h1v14.9h-1zM1220.5 146.3h2.1v4.8h-2.1zM1234 128.9h1v25.1h-1zM1233.5 129.3h2.1v22h-2.1zM1237 147.4h1v23.3h-1zM1236.5 150h2.1v18.5h-2.1zM1246 146.9h1v13.2h-1zM1245.5 149.1h2.1v6.6h-2.1zM1252 143.9h1v19.8h-1zM1251.5 149.6h2.1v12.3h-2.1zM1259 151.8h1v8.4h-1zM1258.5 155.7h2.1v3.5h-2.1zM1274 127.2h1v24.2h-1zM1273.5 129.8h2.1v18.9h-2.1zM1278 139h1v22h-1zM1277.5 140.8h2.1v13.2h-2.1zM1284 137.3h1v11.4h-1zM1283.5 144.3h2.1v1.8h-2.1zM1287 142.1h1v15h-1zM1286.5 144.7h2.1v2.2h-2.1z" fill="#ef5350"/>
<path d="M9 403.6h1v12.4h-1zM8.4 406.1h2.1v7.1h-2.1zM18 415.9h1v18.1h-1zM17.4 419.5h2.1v10.9h-2.1zM22 407.2h1v20.1h-1zM21.4 417.8h2.1v1h-2.1zM28 431.7h1v18.3h-1zM27.4 435.6h2.1v1h-2.1zM31 425.3h1v11.9h-1zM30.4 428.3h2.1v7h-2.1zM34 422.1h1v11.8h-1zM33.5 425.5h2.1v2.9h-2.1zM37 407.6h1v20.9h-1zM36.5 412.5h2.1v13.4h-2.1zM40 403.2h1v15.8h-1zM39.5 404.9h2.1v7.1h-2.1zM44 381.6h1v28.1h-1zM43.5 383.5h2.1v21.2h-2.1zM50 372.2h1v16.2h-1zM49.5 379.7h2.1v5.6h-2.1zM53 367.6h1v15.7h-1zM52.5 371.7h2.1v7.5h-2.1zM56 359h1v15.9h-1zM55.5 364.6h2.1v6.6h-2.1zM62 351.9h1v26.3h-1zM61.5 361.4h2.1v4.7h-2.1zM66 348h1v18.6h-1zM65.5 354.2h2.1v6.8h-2.1zM72 345.3h1v15.4h-1zM71.5 346.9h2.1v8.2h-2.1zM75 334.5h1v15.4h-1zM74.5 344.9h2.1v1.9h-2.1zM81 334.1h1v22.7h-1zM80.5 343.5h2.1v4.7h-2.1zM100 385.9h1v13.4h-1zM99.5 389h2.1v7.7h-2.1zM103 379.4h1v12.1h-1zM102.5 383.6h2.1v5.3h-2.1zM128 413.3h1v29.2h-1zM127.5 426.2h2.1v12.7h-2.1zM135 415h1v15.4h-1zM134.4 423.6h2.1v3.8h-2.1zM138 410.9h1v25.7h-1zM137.4 417h2.1v6.9h-2.1zM144 412h1v11.1h-1zM143.4 414.1h2.1v6.7h-2.1zM160 454.6h1v15.4h-1zM159.4 460.4h2.1v1.9h-2.1zM163 456.8h1v12.3h-1zM162.4 459.7h2.1v1h-2.1zM166 452.1h1v12.8h-1zM165.4 454.5h2.1v5.2h-2.1zM182 484.5h1v30.5h-1zM181.4 497.1h2.1v4.2h-2.1zM185 470.9h1v29.1h-1zM184.4 476.5h2.1v20.2h-2.1zM188 471.4h1v9.2h-1zM187.4 473.7h2.1v2.3h-2.1zM191 457.7h1v19.4h-1zM190.4 462h2.1v11.9h-2.1zM194 406h1v59.7h-1zM193.4 428.6h2.1v33.5h-2.1zM197 405.9h1v26.8h-1zM196.4 411h2.1v17.7h-2.1zM223 469h1v15h-1zM222.4 472.2h2.1v6h-2.1zM238 485.5h1v21.2h-1zM237.4 490.8h2.1v9h-2.1zM241 466.2h1v33.3h-1zM240.4 475.8h2.1v14.7h-2.1zM245 469.3h1v11.9h-1zM244.4 474.7h2.1v2.1h-2.1zM251 471.7h1v10.7h-1zM250.4 474.4h2.1v3h-2.1zM263 490.5h1v15h-1zM262.4 499.1h2.1v3.1h-2.1zM267 481.6h1v33.4h-1zM266.4 491.3h2.1v8h-2.1zM270 451.5h1v48.5h-1zM269.4 458.6h2.1v32.4h-2.1zM273 436.5h1v24.1h-1zM272.4 439.3h2.1v19.1h-2.1zM276 417.4h1v27.3h-1zM275.4 427.8h2.1v11h-2.1zM279 404h1v28.9h-1zM278.4 412.7h2.1v14.6h-2.1zM282 384.9h1v30.7h-1zM281.4 390.1h2.1v22.9h-2.1zM285 361h1v32.4h-1zM284.4 362.8h2.1v27h-2.1zM288 352h1v13.8h-1zM287.4 361.4h2.1v1.3h-2.1zM307 380.5h1v17.7h-1zM306.4 385.9h2.1v7.7h-2.1zM314 380.4h1v7.8h-1zM313.4 382.7h2.1v2.9h-2.1zM320 381.7h1v12.8h-1zM319.4 387.5h2.1v1h-2.1zM323 378.6h1v15.2h-1zM322.4 381.4h2.1v6.4h-2.1zM326 366.5h1v27.5h-1zM325.4 368.8h2.1v12.9h-2.1zM329 360.2h1v21h-1zM328.4 362.1h2.1v6.7h-2.1zM332 346.6h1v17.4h-1zM331.4 352.2h2.1v10.2h-2.1zM336 347.4h1v11.1h-1zM335.4 350.4h2.1v1.9h-2.1zM345 338.3h1v31h-1zM344.4 343.4h2.1v18.8h-2.1zM351 339.8h1v10.5h-1zM350.4 342.1h2.1v5.7h-2.1zM354 338.1h1v12.4h-1zM353.4 340.4h2.1v1h-2.1zM364 341.4h1v11.6h-1zM363.4 343.1h2.1v7.5h-2.1zM367 333h1v16.7h-1zM366.4 340.8h2.1v2.5h-2.1zM370 325.9h1v20.7h-1zM369.4 331.9h2.1v8.7h-2.1zM376 331.2h1v10.1h-1zM375.4 333.6h2.1v4.9h-2.1zM383 332.2h1v16.2h-1zM382.4 334.5h2.1v1h-2.1zM386 319.5h1v17.3h-1zM385.4 327.3h2.1v7.2h-2.1zM389 322.2h1v7.2h-1zM388.4 325.8h2.1v1h-2.1zM392 313.7h1v19.4h-1zM391.4 317h2.1v9.4h-2.1zM395 305.8h1v18.9h-1zM394.4 308h2.1v8.9h-2.1zM398 297.7h1v16.2h-1zM397.4 300.5h2.1v7h-2.1zM402 288h1v20.1h-1zM401.4 296h2.1v4.5h-2.1zM405 293.4h1v5.5h-1zM404.4 295.6h2.1v1.5h-2.1zM408 269.9h1v28.4h-1zM407.4 275.9h2.1v19.9h-2.1zM414 259.2h1v21h-1zM413.4 271h2.1v6.2h-2.1zM417 252.6h1v20.9h-1zM416.4 262.9h2.1v8.6h-2.1zM420 238.4h1v28.6h-1zM419.4 243.8h2.1v18.8h-2.1zM433 239.6h1v16.8h-1zM432.4 244h2.1v9h-2.1zM436 222.1h1v23.7h-1zM435.4 229.2h2.1v15.1h-2.1zM439 225.6h1v6.7h-1zM438.4 227.3h2.1v2.1h-2.1zM445 220.8h1v14.2h-1zM444.4 225h2.1v8.3h-2.1zM449 215.4h1v17h-1zM448.4 222.6h2.1v3.1h-2.1zM461 207h1v31.4h-1zM460.4 221.3h2.1v12.7h-2.1zM471 268.8h1v7h-1zM470.4 273.3h2.1v1h-2.1zM477 274.8h1v13.6h-1zM476.4 277.3h2.1v8.1h-2.1zM496 298h1v15.5h-1zM495.4 307.3h2.1v2.3h-2.1zM505 296.8h1v22.3h-1zM504.4 302h2.1v8.1h-2.1zM511 307.9h1v14.1h-1zM510.4 315.7h2.1v2.4h-2.1zM521 316.8h1v23h-1zM520.5 320.6h2.1v15.5h-2.1zM524 306.2h1v16.4h-1zM523.5 308.9h2.1v11.2h-2.1zM527 296.4h1v15.9h-1zM526.5 300.2h2.1v8.6h-2.1zM543 302.1h1v27.4h-1zM542.5 306.2h2.1v20.3h-2.1zM546 275.7h1v35.2h-1zM545.5 282.7h2.1v23.6h-2.1zM549 258.6h1v31.3h-1zM548.5 260.5h2.1v23h-2.1zM552 243.7h1v26.4h-1zM551.5 248.2h2.1v13.3h-2.1zM555 233.9h1v19.5h-1zM554.5 235.7h2.1v12.8h-2.1zM559 221.7h1v18.1h-1zM558.5 224.4h2.1v11.2h-2.1zM562 188.6h1v38.3h-1zM561.5 192.3h2.1v32.3h-2.1zM574 172h1v44.3h-1zM573.5 188.9h2.1v23.2h-2.1zM584 187.3h1v23.2h-1zM583.5 196.5h2.1v4.9h-2.1zM590 187.4h1v14.4h-1zM589.5 192.9h2.1v6.7h-2.1zM596 176.5h1v20.4h-1zM595.5 178.1h2.1v16.1h-2.1zM599 150h1v31.2h-1zM598.5 161.3h2.1v16.9h-2.1zM612 157.5h1v13.9h-1zM611.5 162.1h2.1v7.4h-2.1zM615 144.5h1v20.4h-1zM614.5 150h2.1v12.2h-2.1zM618 135h1v17.3h-1zM617.5 148.3h2.1v2.1h-2.1zM628 163.7h1v12.4h-1zM627.5 167.6h2.1v5.6h-2.1zM634 163.1h1v21.6h-1zM633.5 173.9h2.1v1h-2.1zM643 173.8h1v18.2h-1zM642.5 175.4h2.1v7h-2.1zM646 171.3h1v10.7h-1zM645.5 174.2h2.1v1h-2.1zM656 167h1v18.6h-1zM655.5 173.5h2.1v10.4h-2.1zM659 155.9h1v30.4h-1zM658.5 164.8h2.1v9.4h-2.1zM662 144.7h1v29.1h-1zM661.5 149.6h2.1v15.4h-2.1zM665 121h1v32.1h-1zM664.5 134.6h2.1v15h-2.1zM672 140.5h1v9.8h-1zM671.5 145.1h2.1v2.6h-2.1zM678 142.9h1v12.2h-1zM677.5 146h2.1v5.9h-2.1zM703 184.8h1v21.7h-1zM702.5 190.2h2.1v14.6h-2.1zM716 208.1h1v15.9h-1zM715.5 211.2h2.1v4.7h-2.1zM719 206.3h1v8.8h-1zM718.5 209.9h2.1v1h-2.1zM722 193.4h1v20.9h-1zM721.5 198.7h2.1v11h-2.1zM731 199.2h1v15.1h-1zM730.5 206.4h2.1v1h-2.1zM738 208.1h1v8.1h-1zM737.5 210.9h2.1v1.2h-2.1zM741 198.9h1v15.2h-1zM740.5 202h2.1v9.2h-2.1zM744 194.9h1v10.6h-1zM743.5 201.6h2.1v1h-2.1zM747 194.8h1v12h-1zM746.5 200.5h2.1v1h-2.1zM763 209.5h1v9h-1zM762.5 212.6h2.1v3.5h-2.1zM766 202.6h1v13.2h-1zM765.5 209.9h2.1v2.9h-2.1zM778 230.5h1v10.3h-1zM777.5 236.9h2.1v1.9h-2.1zM785 236.7h1v15.2h-1zM784.5 242.3h2.1v2.3h-2.1zM794 242.4h1v14.9h-1zM793.5 244.4h2.1v10.4h-2.1zM797 232.3h1v16.2h-1zM796.5 239.7h2.1v4.9h-2.1zM800 235.6h1v7.5h-1zM799.5 237.5h2.1v2h-2.1zM803 226.1h1v19.4h-1zM802.5 233.1h2.1v4.3h-2.1zM813 227.9h1v20.7h-1zM812.5 232.9h2.1v12.3h-2.1zM816 224.4h1v15.8h-1zM815.5 229h2.1v3.5h-2.1zM819 220.2h1v16.6h-1zM818.5 221.8h2.1v7.4h-2.1zM822 211.1h1v15.3h-1zM821.5 214.5h2.1v7.3h-2.1zM825 201.3h1v19.4h-1zM824.5 206.2h2.1v8.3h-2.1zM829 190.7h1v18.6h-1zM828.5 193.9h2.1v12.5h-2.1zM838 184h1v15.1h-1zM837.5 195.6h2.1v1.6h-2.1zM844 193.4h1v12.5h-1zM843.5 195.8h2.1v4.5h-2.1zM851 182.3h1v23.7h-1zM850.5 193h2.1v8h-2.1zM857 199.1h1v7.2h-1zM856.5 200.8h2.1v2.6h-2.1zM876 226.7h1v8.7h-1zM875.5 228.5h2.1v3.5h-2.1zM901 248.6h1v21.2h-1zM900.5 256.1h2.1v2.2h-2.1zM904 250.9h1v15.6h-1zM903.5 255.2h2.1v1h-2.1zM910 251h1v10.8h-1zM909.5 254.5h2.1v4.6h-2.1zM913 243.3h1v14.4h-1zM912.5 248.3h2.1v6.3h-2.1zM916 233.8h1v17.7h-1zM915.5 241.6h2.1v6.8h-2.1zM920 230.9h1v13.2h-1zM919.5 232.6h2.1v8.5h-2.1zM923 224.6h1v16.4h-1zM922.5 229.3h2.1v3.1h-2.1zM926 218h1v17.8h-1zM925.5 228.2h2.1v1h-2.1zM929 212h1v18.6h-1zM928.5 221.9h2.1v6.4h-2.1zM935 215.8h1v9.3h-1zM934.5 218.8h2.1v3.6h-2.1zM951 226.6h1v19.7h-1zM950.5 231.8h2.1v7.6h-2.1zM964 233.9h1v19.1h-1zM963.5 237.3h2.1v9.1h-2.1zM967 229.6h1v19.9h-1zM966.5 231.8h2.1v6.2h-2.1zM970 227.5h1v6h-1zM969.5 231h2.1v1h-2.1zM973 224.4h1v14.4h-1zM972.5 227.4h2.1v3.5h-2.1zM986 229.3h1v13.2h-1zM985.5 231.3h2.1v5.1h-2.1zM1014 310.7h1v22.3h-1zM1013.5 311.7h2.1v18.3h-2.1zM1017 287.4h1v27.4h-1zM1016.5 288.4h2.1v26.4h-2.1zM1023 274.8h1v15.6h-1zM1022.5 276.2h2.1v13.2h-2.1zM1030 227.5h1v54.8h-1zM1029.5 228.5h2.1v52.7h-2.1zM1036 230.6h1v14.2h-1zM1035.5 235.6h2.1v7.5h-2.1zM1039 202.6h1v33.7h-1zM1038.5 204.2h2.1v31.4h-2.1zM1042 191h1v27.4h-1zM1041.5 192h2.1v25.4h-2.1zM1048 182.1h1v20.2h-1zM1047.5 188h2.1v4.2h-2.1zM1055 174.3h1v25.5h-1zM1054.5 180.9h2.1v16.1h-2.1zM1061 168h1v21.8h-1zM1060.5 179.3h2.1v7.3h-2.1zM1064 166.9h1v18.3h-1zM1063.5 170.8h2.1v8.4h-2.1zM1080 182.8h1v13.1h-1zM1079.5 185.4h2.1v2.2h-2.1zM1099 201.5h1v22.7h-1zM1098.5 205h2.1v14.3h-2.1zM1102 196.5h1v11.9h-1zM1101.5 200.3h2.1v4.4h-2.1zM1105 181.4h1v20.6h-1zM1104.5 189.6h2.1v10.8h-2.1zM1108 185.6h1v10.4h-1zM1107.5 188.7h2.1v1.3h-2.1zM1111 175.7h1v18h-1zM1110.5 179.4h2.1v9.5h-2.1zM1117 174.1h1v16.5h-1zM1116.5 180.7h2.1v2.4h-2.1zM1121 162.9h1v19.9h-1zM1120.5 174.8h2.1v5.9h-2.1zM1124 164.7h1v12.7h-1zM1123.5 168.1h2.1v6.4h-2.1zM1127 159.8h1v12.5h-1zM1126.5 162.7h2.1v6.1h-2.1zM1130 146.8h1v24.7h-1zM1129.5 152.7h2.1v9.6h-2.1zM1133 132.8h1v28.7h-1zM1132.5 138.6h2.1v13.6h-2.1zM1139 113h1v33.5h-1zM1138.5 115h2.1v30.5h-2.1zM1149 135.7h1v23.6h-1zM1148.5 145.2h2.1v12.2h-2.1zM1165 150.6h1v44.1h-1zM1164.5 151.6h2.1v38.6h-2.1zM1171 140.8h1v15.7h-1zM1170.5 142.6h2.1v9.5h-2.1zM1177 139.8h1v13h-1zM1176.5 145.4h2.1v3.1h-2.1zM1180 136.6h1v11.7h-1zM1179.5 144.1h2.1v1.7h-2.1zM1183 136.6h1v11.9h-1zM1182.5 139.5h2.1v4.3h-2.1zM1187 121.2h1v20.7h-1zM1186.5 122.9h2.1v16.3h-2.1zM1190 116h1v8h-1zM1189.5 118.8h2.1v3.3h-2.1zM1193 109.6h1v19.6h-1zM1192.5 114.6h2.1v4.3h-2.1zM1196 102.8h1v21.8h-1zM1195.5 110.9h2.1v3.3h-2.1zM1215 141.5h1v10.3h-1zM1214.5 144.8h2.1v1.3h-2.1zM1224 140h1v12.8h-1zM1223.5 145.6h2.1v5.3h-2.1zM1227 122h1v25.2h-1zM1226.5 124.6h2.1v20.5h-2.1zM1230 126.7h1v10.1h-1zM1229.5 129.3h2.1v4.4h-2.1zM1240 154h1v15h-1zM1239.5 154h2.1v14.5h-2.1zM1243 141.2h1v14.1h-1zM1242.5 148.7h2.1v6.2h-2.1zM1249 143h1v13.6h-1zM1248.5 149.6h2.1v4.4h-2.1zM1256 153.1h1v12.8h-1zM1255.5 155.7h2.1v6.6h-2.1zM1262 143h1v15.8h-1zM1261.5 146.9h2.1v11.4h-2.1zM1265 134.2h1v14.1h-1zM1264.5 143.9h2.1v4h-2.1zM1268 128.5h1v19.3h-1zM1267.5 142.1h2.1v2.2h-2.1zM1271 121h1v27.7h-1zM1270.5 129.8h2.1v13.6h-2.1zM1281 142.1h1v11.9h-1zM1280.5 143.9h2.1v10.1h-2.1z" fill="#26a69a"/>
</g>
<g clip-path="url(#rsi)">
<polygon points="9.3,649.5 10.3,650.9 15.4,661 21.9,657.3 26.5,662.4 28.3,649.5" fill="url(#os)"/>
<polygon points="174.3,649.5 174.3,649.6 177.9,656.5 180.4,649.5" fill="url(#os)"/>
<polygon points="992.5,649.5 995.7,656 999.6,663.7 1002.9,668.9 1007.3,670.7 1010.6,670.9 1012.9,661 1014.2,649.5" fill="url(#os)"/>
<polyline points="9,649 10.3,650.9 15.4,661 21.9,657.3 26.5,662.4 29.6,640.6 32.9,632.9 38.6,638 42.4,617.4 46.3,604.6 51.4,598 54.5,605.9 57.9,603.3 60.9,587.9 63.8,598.9 67.4,591.7 70.7,589 76.6,593 80.5,585.3 82.8,603.3 86,607 89.5,614.9 93,620 98.5,631 102.9,621.3 108.5,613.6 111.9,626.4 115,627.7 119.6,638 124.2,647.8 127.3,632.9 130.4,634.9 133.7,639.3 136.3,624.6 139.4,629 143.2,621.3 146,616.9 149.1,630.3 152.2,636.7 155,648.3 158.6,638 162,638 164.6,643 168.4,635.4 171.8,641 174.3,649.6 177.9,656.5 181.3,647 183.8,627.7 189.8,626.4 192.9,600.7 196.7,589.7 200.6,596.3 203,598.9 206.5,609.7 208.8,621.3 213.9,618.7 218,623 221.6,631.6 225,627.2 227.6,627.2 230,636.7 233.5,636.7 236.6,618.7 243,618.7 246,611.8 249.4,611.8 252.5,623.9 255.3,628 258.4,618.7 261.5,624.6 265.4,627.7 268.2,598 271.3,599.4 275,585.3 277.7,587.9 280.8,571 284,568.6 290.6,566 293.9,569.9 297,578.9 302.7,593 306.5,591.7 311.9,585.3 315,586.6 318.8,595 322.7,590.4 327.8,568.6 331.7,572.4 335,592.5 338,591.2 341.2,584.8 347,580 350.2,591.2 354.6,579.4 356.9,582.7 360.3,600.7 363.4,593 366.2,596.3 368.5,584 371.9,587.9 375.7,599.4 378.8,596.3 382,590.4 385.2,595.6 388.6,591.2 398,574.5 400.7,589.7 403.5,577.6 407.9,574.5 412.5,573.2 416.3,565.5 420,560 424.6,567.3 427.9,572.4 432.3,563 435.6,567.3 440.8,564 444.6,560.9 447.7,575 450.8,577.6 454,580.9 458,577.6 460.6,569.9 463,591.7 466.5,621.3 470.9,619.5 475.5,615.4 479.3,622.6 481.9,620 486.3,627.2 488.9,625.7 492.7,635.4 496.6,631.6 501.2,627.7 505,634 509.4,640 514,647 518.4,635.4 523.6,621.3 526,620.5 530,605 532.6,612.3 536.4,632.3 539,632.3 542.9,612.3 546,591.7 548.8,576.3 551.9,582.7 555,577.6 558.3,576.8 560.9,557.8 564.2,563.4 567.8,585.3 571,576.3 574.2,571 577.6,580 580,589 584,583.5 587,587.9 590.4,583.5 593,589 596.3,580 598.9,573.7 602.5,573.7 605.9,582.7 608.4,589.7 612.3,584.5 618.2,574.2 620.5,591.7 624.6,596.9 627.7,593 630.3,598 633.6,594.3 636.7,605 642.6,599.4 647,603.3 652,603.3 655.5,607 658.6,590.4 661.9,580.9 664.5,577 668,596.3 671.4,594.8 674.8,589.7 677.8,593 680.4,602 683.5,604 686.3,602 690,616 692.8,620 696.4,630.3 699.7,618.7 703.9,620.5 706.4,618.7 712.3,634.9 715.4,630.8 718,632.3 721.9,621.3 727.8,609.7 730.9,624.6 734.2,617.4 736.8,615.4 740.4,627.7 744.2,612.3 747.6,613.6 750.7,617.4 753.5,623.9 756.6,624.6 759,613.6 762.5,613.6 766.3,618.7 769.4,626.4 771.5,629 774.6,637.5 777.9,632.3 780.5,629.8 784.3,634.9 788.7,638.5 791.3,635.4 793.9,627.2 797.2,623.9 800.3,620 803.4,627.2 806.2,631 809.3,617.4 811.3,616.9 815.2,609.2 818.3,591.7 820.9,589 825.5,594.3 828.6,593 831,580 833.2,578 836.3,582.7 840,594.3 844,602.8 847.9,593 850.4,589.7 853.5,613.6 856.9,602 860.2,598.9 863.3,613.6 867,620.5 871.8,617.4 873.6,613.6 877.4,622.6 881.3,631.6 884.6,634 887.7,632.9 891.6,636.7 895.4,643 900,647.8 903.6,647.8 907,639.3 910.9,632.9 913.9,614.3 917.3,613.6 919.9,615.4 923.2,600.7 926.3,591.7 929.4,589 932.7,591.7 936.6,592.5 939.7,596.9 944.3,619.5 946.9,617.4 949.4,616 954,612.3 957,620 960.2,627.2 963.6,623.9 966,607 970,596.3 973.8,599.4 976.4,600 980.3,612.3 982.3,606.6 985.4,618.7 988,632.9 991.9,648.3 995.7,656 999.6,663.7 1002.9,668.9 1007.3,670.7 1010.6,670.9 1012.9,661 1015,643 1017,625 1019.6,624.6 1023.5,614.9 1026,613.6 1029.9,580.9 1033,588.6 1035.6,587.9 1039.4,575 1042.5,567.3 1045.8,565.5 1049.2,571.7 1052.3,573 1054.2,569.6 1057.9,565.4 1060.7,560.5 1064,568.2 1067.5,579.5 1072,580.3 1076.9,576.7 1080.5,589.4 1083.9,599.3 1086.8,607.8 1090.2,605 1093,616.3 1096.7,609.2 1099.5,601.3 1102.3,603 1105,590.8 1110.8,591.7 1114.5,582.3 1117.9,589.4 1122,585.2 1125.8,578.6 1130.6,565.4 1134.3,564.5 1136.3,571.9 1140,559 1141.9,583.7 1144.7,592.8 1147.6,595.6 1151.8,592.8 1154.6,600 1159.7,618.2 1162.6,619 1165.4,596.5 1168.2,592.8 1171.6,600 1177.8,592.8 1180.7,596.5 1185.8,588 1190,580.9 1192.8,578 1196.5,585.2 1199.9,588 1204,593.6 1207,602 1211.2,600.7 1214.6,604 1217.4,612.6 1221,612 1224,614.3 1227.6,597.9 1231,594.5 1234.4,612 1238,624.8 1241,616.3 1244.6,611.5 1247.4,614.3 1250.3,609.2 1253,618.2 1256.5,614.3 1259.9,614.9 1262.7,606.4 1266.4,602 1269.2,599.3 1272.6,591.7 1275.7,605.8 1279,613.4 1282,606.4 1285.3,606.4 1288.4,608.3" fill="none" stroke="#7e57c2" stroke-width="1.0" stroke-linejoin="round"/>
<polyline points="9,639 11,641.3 13,643.4 15,645.2 17,646.9 19,648.6 21,650.3 23,652.1 25,653.5 27,654.2 29,654.3 31,654.4 33,654.5 35,654.5 37,653.9 39,652.5 41,650.8 43,649.1 45,646.9 47,644.2 49,641.4 51,638.5 53,635.9 55,633.2 57,630.5 59,627.7 61,624.9 63,622 65,618.8 67,615.6 69,612.5 71,609.8 73,607.2 75,604.7 77,602.5 79,600.7 81,599.4 83,598.2 85,597.5 87,597.5 89,598 91,598.7 93,599.6 95,600.5 97,601.6 99,602.9 101,604.1 103,605.4 105,606.5 107,607.7 109,609 111,610.3 113,611.9 115,613.9 117,616 119,618.1 121,620.1 123,622 125,623.8 127,625.4 129,626.6 131,627.7 133,628.6 135,629.4 137,629.8 139,629.7 141,629.5 143,629.3 145,629.1 147,629 149,629.6 151,630.7 153,631.8 155,632.5 157,633.1 159,633.6 161,634 163,634 165,633.9 167,633.7 169,633.6 171,633.7 173,634.4 175,635.4 177,636.5 179,637.3 181,637.7 183,637.9 185,638.2 187,638.4 189,638.5 191,638.4 193,637 195,634.7 197,632.6 199,630.4 201,628.2 203,626.4 205,625.2 207,624.1 209,623.2 211,622.4 213,621.5 215,620.5 217,619.3 219,618.1 221,617 223,616.1 225,615.5 227,615.4 229,615.6 231,616.1 233,616.7 235,617.3 237,618.2 239,619.5 241,621 243,622.2 245,622.7 247,623.1 249,623.4 251,623.6 253,623.8 255,623.9 257,624.1 259,624.2 261,624.3 263,624.4 265,624.4 267,623.9 269,622.7 271,621.3 273,619.7 275,617.6 277,615 279,612.1 281,609.3 283,606.8 285,604.4 287,602.1 289,599.9 291,597.7 293,595.6 295,593.7 297,591.8 299,589.9 301,588.1 303,586.4 305,584.9 307,583.6 309,582.5 311,581.5 313,580.7 315,580.1 317,580 319,580.1 321,580.2 323,580.5 325,580.7 327,581.1 329,581.4 331,582 333,582.9 335,584 337,584.8 339,585.3 341,585.2 343,585.1 345,584.8 347,584.6 349,584.5 351,584.5 353,584.6 355,584.8 357,585 359,585.2 361,585.3 363,585.4 365,585.5 367,585.6 369,585.8 371,586.1 373,586.9 375,587.8 377,588.6 379,589.2 381,589.6 383,590.1 385,590.4 387,590.6 389,590.7 391,590.7 393,590.6 395,590.4 397,590.3 399,590.1 401,589.9 403,589.4 405,588.8 407,588 409,587.1 411,586.2 413,585.1 415,584.1 417,582.9 419,581.5 421,580 423,578.5 425,577.1 427,575.8 429,574.7 431,573.5 433,572.5 435,571.6 437,570.7 439,570 441,569.3 443,568.6 445,568.1 447,567.8 449,567.8 451,568 453,568.2 455,568.5 457,568.9 459,569.4 461,570 463,571.4 465,573.6 467,576.1 469,578.4 471,580.7 473,583.2 475,585.7 477,588.3 479,590.9 481,593.6 483,596.4 485,599.2 487,602 489,604.7 491,607.4 493,610 495,612.5 497,615 499,617.4 501,619.8 503,622.2 505,624.3 507,626.1 509,627.4 511,628.6 513,629.6 515,630.5 517,631.4 519,632.2 521,632.8 523,632.9 525,632.7 527,632.4 529,631.8 531,630.8 533,630 535,629.7 537,629.7 539,629.6 541,629.4 543,628.5 545,627.1 547,625.4 549,623.2 551,620.2 553,616.8 555,613.4 557,610.1 559,606.5 561,603 563,599.9 565,597.6 567,595.6 569,593.8 571,592.1 573,590.3 575,588.5 577,586.6 579,584.7 581,583 583,581.3 585,579.6 587,578.4 589,578.3 591,578.4 593,578.6 595,578.8 597,578.9 599,579 601,579.1 603,579.2 605,579.5 607,580.7 609,582 611,582.4 613,582.6 615,582.8 617,582.9 619,583.1 621,583.4 623,583.7 625,584.2 627,584.7 629,585.3 631,586 633,586.6 635,587.4 637,588.3 639,589.3 641,590.3 643,591.3 645,592.2 647,593.1 649,594.1 651,595.2 653,596.1 655,596.9 657,597.5 659,597.6 661,597.5 663,597.4 665,597.3 667,597.1 669,597 671,596.9 673,596.9 675,596.9 677,596.9 679,596.9 681,596.9 683,596.9 685,596.9 687,596.9 689,597.1 691,597.6 693,598.4 695,599.3 697,600.2 699,601.3 701,602.7 703,604.3 705,606 707,607.8 709,609.6 711,611.7 713,613.9 715,615.7 717,617.2 719,618.5 721,619.6 723,620.5 725,621.2 727,621.9 729,622.4 731,622.8 733,623 735,622.9 737,622.8 739,622.5 741,622.2 743,621.9 745,621.6 747,621.4 749,621.2 751,621 753,620.7 755,620.3 757,619.6 759,618.8 761,618 763,617.5 765,617.4 767,617.8 769,618.4 771,619.1 773,619.9 775,620.6 777,621.3 779,621.9 781,622.6 783,623.2 785,623.9 787,624.7 789,625.7 791,626.5 793,627.1 795,627.3 797,627.4 799,627.5 801,627.6 803,627.7 805,628.2 807,629 809,629.5 811,629.3 813,628.5 815,627.5 817,626.5 819,625.1 821,623.5 823,621.6 825,619.7 827,617.6 829,615.1 831,612.3 833,609.6 835,607.2 837,605.3 839,603.8 841,602.6 843,601.3 845,600 847,598.7 849,597.3 851,596.3 853,595.5 855,594.9 857,594.3 859,593.9 861,593.8 863,594.3 865,595.4 867,596.9 869,598.4 871,599.9 873,601.6 875,603.5 877,605.5 879,607.5 881,609.3 883,611 885,612.7 887,614.4 889,616.2 891,618.1 893,620.1 895,622.3 897,624.4 899,626.3 901,628 903,629.7 905,631.3 907,632.7 909,633.4 911,633.4 913,633.4 915,633.4 917,633.4 919,633.4 921,632.8 923,631.5 925,630 927,628.5 929,626.7 931,624.6 933,622.4 935,620.2 937,618.3 939,616.5 941,614.7 943,613 945,611.5 947,610.1 949,608.8 951,607.6 953,606.7 955,606.4 957,606.5 959,606.8 961,607.2 963,607.6 965,607.9 967,608.2 969,608.4 971,608.6 973,608.9 975,609.2 977,609.6 979,610.1 981,610.7 983,611.4 985,612.2 987,613.1 989,614.1 991,615.5 993,617.1 995,618.9 997,620.8 999,622.7 1001,624.7 1003,626.8 1005,629 1007,631.2 1009,633.3 1011,635.8 1013,638.3 1015,640.6 1017,642.3 1019,643.2 1021,643.9 1023,644.5 1025,644.9 1027,645 1029,644.2 1031,642.6 1033,640.7 1035,638.5 1037,635.7 1039,632.2 1041,628.4 1043,624.4 1045,620 1047,615.2 1049,610.1 1051,604.6 1053,597.9 1055,591.2 1057,586.6 1059,582.9 1061,579.8 1063,577.7 1065,576.1 1067,574.8 1069,574 1071,573.6 1073,573.3 1075,573.1 1077,573 1079,573.1 1081,573.8 1083,575 1085,576.4 1087,577.9 1089,579.7 1091,581.8 1093,583.8 1095,585.7 1097,587.5 1099,589.3 1101,591 1103,592.5 1105,593.6 1107,594.4 1109,595.1 1111,595.7 1113,596.2 1115,596.5 1117,596.8 1119,597 1121,597.2 1123,597.3 1125,597 1127,595.6 1129,593.7 1131,591.7 1133,589.8 1135,587.5 1137,585.1 1139,583.1 1141,582.1 1143,581.6 1145,581.1 1147,580.9 1149,581 1151,581.3 1153,581.8 1155,582.4 1157,583.5 1159,584.9 1161,586.3 1163,587.4 1165,588.1 1167,588.6 1169,589.1 1171,589.8 1173,590.7 1175,592 1177,593.4 1179,594.7 1181,596.1 1183,597.5 1185,598.3 1187,598.3 1189,598 1191,597.5 1193,596.9 1195,596.2 1197,594.9 1199,593.3 1201,591.9 1203,590.9 1205,590.8 1207,591 1209,591.2 1211,591.6 1213,592 1215,592.5 1217,593.3 1219,594.3 1221,595.3 1223,596.2 1225,596.7 1227,597.1 1229,597.4 1231,597.9 1233,598.9 1235,600.4 1237,602.1 1239,603.7 1241,604.9 1243,606.1 1245,607.2 1247,608.2 1249,609 1251,610 1253,610.8 1255,611.4 1257,611.5 1259,611.4 1261,611.2 1263,610.9 1265,610.6 1267,610.2 1269,609.8 1271,609.4 1273,609.2 1275,609.5 1277,610.2 1279,610.6 1281,610.5 1283,610.1 1285,609.5 1287,608.6 1288.4,607.8" fill="none" stroke="#ecd836" stroke-width="1.1" stroke-linejoin="round"/>
</g>
<g fill="#8d909a" stroke="#8d909a" stroke-width="0.35" stroke-linejoin="round" fill-rule="evenodd">
<path d="M1208.7 659.1L1242.7 659.1L1233.9 695.7L1231.9 698.9L1229 699.5L1197.9 699.5L1201.7 682.4L1199.9 682.4L1202 674.4L1203.7 674.4ZM1215 665.3L1232.3 665.3L1229.9 674.4L1226.8 668.2L1220.3 668.2L1217.7 674.4L1212.3 674.4ZM1210.5 682.5L1227.9 682.5L1224.6 692.7L1220.8 684.9L1216 684.9L1212.7 692.5L1207.7 692.5Z"/>
<path d="M1215.8 646.2L1226.3 646.2L1223.9 649.5L1245.8 649.5L1244.5 655.2L1215 655.2L1212.5 659.1L1205.2 659.1L1206.4 655.2L1209.3 651.5Z"/>
<path d="M1195.5 646.7L1202.4 646.7L1204.2 653.6L1206.6 655.2L1205.5 660.9L1194.5 660.9Z"/>
<path d="M1190.3 663.3L1199.5 663.3L1199.3 670.6L1202.4 673.9L1201 678.7L1189.4 678.7Z"/>
<path d="M1191 680.8L1200.3 680.8L1190.2 699.2L1181.2 699.2L1182.1 695L1186.1 695Z"/>
<path d="M1255.3 647.1L1304.9 647.1L1303 654.2L1253.4 654.2Z"/>
<path d="M1253.4 654.2L1261.9 654.2L1258.1 668.3L1249.6 668.3Z"/>
<path d="M1251.1 668.3L1299.7 668.3L1297.8 675.7L1249.2 675.7Z"/>
<path d="M1295 654.2L1303 654.2L1299.7 668.3L1291.7 668.3Z"/>
<path d="M1289.8 675.7L1297.8 675.7L1292.1 700L1284.1 700Z"/>
<path d="M1245.9 683.5L1285.5 683.5L1283.8 689.6L1244.2 689.6Z"/>
<path d="M1269.9 693.8L1293.6 693.8L1292 700L1268.3 700Z"/>
<path d="M1313.5 646.7L1340.3 646.7L1330 687.5L1322.8 687.5L1327.8 699.9L1319.2 699.9L1315.3 691.7L1309 699.9L1299.7 699.9L1300.9 695L1304.5 695L1307 686.1L1303.3 686.1Z"/>
<path d="M1340.5 650.7L1366.7 650.7L1364.4 660.2L1338.1 660.2Z"/>
<path d="M1357.7 646.7L1366.8 646.7L1353.8 699.9L1344.7 699.9Z"/>
<path d="M1348 660.2L1355.7 660.2L1338.2 692.6L1330.1 692.6Z"/>
<path d="M1330.5 691.7L1348 691.7L1346 699.9L1328.1 699.9Z"/>
<path d="M1382.2 646.7L1392.3 646.7L1381.3 663.3L1371.2 663.3Z"/>
<path d="M1379.3 658.8L1394.7 658.8L1391.9 666.6L1371.2 666.6L1371.2 663.3Z"/>
<path d="M1385.8 666.6L1391.9 666.6L1378.5 686.1L1365.1 686.1L1367.9 681.2Z"/>
<path d="M1379.3 678.7L1387.6 678.7L1385.4 686.1L1365.1 686.1Z"/>
<path d="M1363.5 692.6L1383.8 692.6L1381.7 699.9L1361.3 699.9Z"/>
<path d="M1398.4 646.7L1427.1 646.7L1424.4 654.4L1396.2 654.4Z"/>
<path d="M1415.1 654.4L1424.4 654.4L1404.5 674.3L1394.7 674.3Z"/>
<path d="M1402.9 660.5L1409.4 656.8L1422.2 667.4L1420.3 674.3L1411 674.3Z"/>
<path d="M1389.7 676.3L1420.1 676.3L1418.1 683.6L1387.6 683.6Z"/>
<path d="M1401.6 683.6L1411.4 683.6L1409 692.6L1399.2 692.6Z"/>
<path d="M1385.2 692.6L1415.2 692.6L1413.2 699.9L1383.1 699.9Z"/>
</g>
<path d="M1311.8 682L1319 656.6L1330.1 656.6L1323.2 684" fill="none" stroke="#171b27" stroke-width="1.5"/>
<text transform="translate(1196.6,733.4) scale(1.044,1)" font-family='"Liberation Sans", sans-serif' font-size="34" font-weight="bold" font-style="italic" fill="#11162c" stroke="#11162c" stroke-width="0.9">z</text>
<text transform="translate(1223.1,733.4) scale(1.044,1)" font-family='"Liberation Sans", sans-serif' font-size="34" font-weight="bold" font-style="italic" fill="#11162c" stroke="#11162c" stroke-width="0.9">z</text>
<text transform="translate(1250.2,733.4) scale(1.080,1)" font-family='"Liberation Sans", sans-serif' font-size="34" font-weight="bold" font-style="italic" fill="#11162c" stroke="#11162c" stroke-width="0.9">r</text>
<text transform="translate(1272.8,733.4) scale(1.318,1)" font-family='"Liberation Sans", sans-serif' font-size="32" font-weight="bold" font-style="italic" fill="#11162c" stroke="#11162c" stroke-width="0.9">t</text>
<text transform="translate(1293.3,733.4) scale(1.281,1)" font-family='"Liberation Sans", sans-serif' font-size="30.5" font-weight="bold" font-style="italic" fill="#11162c" stroke="#11162c" stroke-width="0.9">0</text>
<text transform="translate(1327.1,733.4) scale(0.963,1)" font-family='"Liberation Sans", sans-serif' font-size="30.5" font-weight="bold" font-style="italic" fill="#11162c" stroke="#11162c" stroke-width="0.9">1</text>
<text transform="translate(1352.7,733.4) scale(1.214,1)" font-family='"Liberation Sans", sans-serif' font-size="34" font-weight="bold" font-style="italic" fill="#11162c" stroke="#11162c" stroke-width="0.9">.</text>
<text transform="translate(1372.2,733.4) scale(0.995,1)" font-family='"Liberation Sans", sans-serif' font-size="34" font-weight="bold" font-style="italic" fill="#11162c" stroke="#11162c" stroke-width="0.9">c</text>
<text transform="translate(1397.1,733.4) scale(1.065,1)" font-family='"Liberation Sans", sans-serif' font-size="34" font-weight="bold" font-style="italic" fill="#11162c" stroke="#11162c" stroke-width="0.9">n</text>
<text transform="translate(1195.4,732.4) scale(1.044,1)" font-family='"Liberation Sans", sans-serif' font-size="34" font-weight="bold" font-style="italic" fill="#1d40a2" stroke="#1d40a2" stroke-width="0.9">z</text>
<text transform="translate(1221.9,732.4) scale(1.044,1)" font-family='"Liberation Sans", sans-serif' font-size="34" font-weight="bold" font-style="italic" fill="#1d40a2" stroke="#1d40a2" stroke-width="0.9">z</text>
<text transform="translate(1249,732.4) scale(1.080,1)" font-family='"Liberation Sans", sans-serif' font-size="34" font-weight="bold" font-style="italic" fill="#1d40a2" stroke="#1d40a2" stroke-width="0.9">r</text>
<text transform="translate(1271.6,732.4) scale(1.318,1)" font-family='"Liberation Sans", sans-serif' font-size="32" font-weight="bold" font-style="italic" fill="#1d40a2" stroke="#1d40a2" stroke-width="0.9">t</text>
<text transform="translate(1292.1,732.4) scale(1.281,1)" font-family='"Liberation Sans", sans-serif' font-size="30.5" font-weight="bold" font-style="italic" fill="#1d40a2" stroke="#1d40a2" stroke-width="0.9">0</text>
<text transform="translate(1325.9,732.4) scale(0.963,1)" font-family='"Liberation Sans", sans-serif' font-size="30.5" font-weight="bold" font-style="italic" fill="#1d40a2" stroke="#1d40a2" stroke-width="0.9">1</text>
<text transform="translate(1351.5,732.4) scale(1.214,1)" font-family='"Liberation Sans", sans-serif' font-size="34" font-weight="bold" font-style="italic" fill="#1d40a2" stroke="#1d40a2" stroke-width="0.9">.</text>
<text transform="translate(1371,732.4) scale(0.995,1)" font-family='"Liberation Sans", sans-serif' font-size="34" font-weight="bold" font-style="italic" fill="#1d40a2" stroke="#1d40a2" stroke-width="0.9">c</text>
<text transform="translate(1395.9,732.4) scale(1.065,1)" font-family='"Liberation Sans", sans-serif' font-size="34" font-weight="bold" font-style="italic" fill="#1d40a2" stroke="#1d40a2" stroke-width="0.9">n</text>
<line x1="9.0" y1="568.5" x2="1362" y2="568.5" stroke="#9a9ca6" stroke-width="1" stroke-dasharray="3.6 2.7"/>
<line x1="9.0" y1="649.5" x2="1362" y2="649.5" stroke="#9a9ca6" stroke-width="1" stroke-dasharray="3.6 2.7"/>
<line x1="9.0" y1="609" x2="1362" y2="609" stroke="#9a9ca6" stroke-opacity="0.16" stroke-width="1" stroke-dasharray="3 3.5"/>
<text x="9" y="16.9" font-family='"Liberation Sans", sans-serif' font-size="10.9" font-weight="normal" fill="#d1d4dc" stroke="#d1d4dc" stroke-width="0.35" textLength="329" lengthAdjust="spacingAndGlyphs">dacolmanfx published on TradingView.com, Feb 08, 2024 16:27 UTC-5</text>
<text x="16" y="40.7" font-family='"Liberation Sans", sans-serif' font-size="10.2" font-weight="normal" fill="#d1d4dc" textLength="165" lengthAdjust="spacingAndGlyphs">Gold Spot / U.S. Dollar, 1D, OANDA</text>
<text x="188.5" y="40.7" font-family='"Liberation Sans", sans-serif' font-size="10.2" font-weight="normal" fill="#d1d4dc" textLength="6.5" lengthAdjust="spacingAndGlyphs">O</text>
<text x="195.4" y="40.7" font-family='"Liberation Sans", sans-serif' font-size="10.2" font-weight="normal" fill="#ef5350" textLength="42.6" lengthAdjust="spacingAndGlyphs">2035.000</text>
<text x="244.6" y="40.7" font-family='"Liberation Sans", sans-serif' font-size="10.2" font-weight="normal" fill="#d1d4dc" textLength="6.2" lengthAdjust="spacingAndGlyphs">H</text>
<text x="251.3" y="40.7" font-family='"Liberation Sans", sans-serif' font-size="10.2" font-weight="normal" fill="#ef5350" textLength="42.3" lengthAdjust="spacingAndGlyphs">2038.785</text>
<text x="301" y="40.7" font-family='"Liberation Sans", sans-serif' font-size="10.2" font-weight="normal" fill="#d1d4dc" textLength="4" lengthAdjust="spacingAndGlyphs">L</text>
<text x="305.6" y="40.7" font-family='"Liberation Sans", sans-serif' font-size="10.2" font-weight="normal" fill="#ef5350" textLength="42.2" lengthAdjust="spacingAndGlyphs">2020.250</text>
<text x="354.8" y="40.7" font-family='"Liberation Sans", sans-serif' font-size="10.2" font-weight="normal" fill="#d1d4dc" textLength="5.7" lengthAdjust="spacingAndGlyphs">C</text>
<text x="361.2" y="40.7" font-family='"Liberation Sans", sans-serif' font-size="10.2" font-weight="normal" fill="#ef5350" textLength="42.1" lengthAdjust="spacingAndGlyphs">2033.825</text>
<text x="410.9" y="40.7" font-family='"Liberation Sans", sans-serif' font-size="10.2" font-weight="normal" fill="#ef5350" textLength="73.6" lengthAdjust="spacingAndGlyphs">−1.175 (−0.06%)</text>
<text x="1098" y="50.1" font-family='"Liberation Sans", sans-serif' font-size="12.8" font-weight="bold" fill="#ffffff" textLength="129.3" lengthAdjust="spacingAndGlyphs">2023 and all-time high</text>
<text x="626.3" y="106.7" font-family='"Liberation Sans", sans-serif' font-size="12.8" font-weight="bold" fill="#ffffff" textLength="89.2" lengthAdjust="spacingAndGlyphs">May 2023 Highs</text>
<text x="937.3" y="362.7" font-family='"Liberation Sans", sans-serif' font-size="12.8" font-weight="bold" fill="#ffffff" textLength="111.1" lengthAdjust="spacingAndGlyphs">October 2023 Lows</text>
<text x="253" y="536.7" font-family='"Liberation Sans", sans-serif' font-size="13.8" font-weight="bold" fill="#ffffff" textLength="140.7" lengthAdjust="spacingAndGlyphs">November 2022 Lows</text>
<text x="1369.7" y="51.6" font-family='"Liberation Sans", sans-serif' font-size="10.4" font-weight="normal" fill="#bec1ca" stroke="#bec1ca" stroke-width="0.15" textLength="42.2" lengthAdjust="spacingAndGlyphs">2160.000</text>
<text x="1369.7" y="83.4" font-family='"Liberation Sans", sans-serif' font-size="10.4" font-weight="normal" fill="#bec1ca" stroke="#bec1ca" stroke-width="0.15" textLength="42.2" lengthAdjust="spacingAndGlyphs">2120.000</text>
<text x="1369.7" y="113.8" font-family='"Liberation Sans", sans-serif' font-size="10.4" font-weight="normal" fill="#bec1ca" stroke="#bec1ca" stroke-width="0.15" textLength="42.2" lengthAdjust="spacingAndGlyphs">2080.000</text>
<text x="1369.7" y="192.9" font-family='"Liberation Sans", sans-serif' font-size="10.4" font-weight="normal" fill="#bec1ca" stroke="#bec1ca" stroke-width="0.15" textLength="42.2" lengthAdjust="spacingAndGlyphs">1980.000</text>
<text x="1369.7" y="225.8" font-family='"Liberation Sans", sans-serif' font-size="10.4" font-weight="normal" fill="#bec1ca" stroke="#bec1ca" stroke-width="0.15" textLength="42.2" lengthAdjust="spacingAndGlyphs">1940.000</text>
<text x="1369.7" y="259" font-family='"Liberation Sans", sans-serif' font-size="10.4" font-weight="normal" fill="#bec1ca" stroke="#bec1ca" stroke-width="0.15" textLength="42.2" lengthAdjust="spacingAndGlyphs">1900.000</text>
<text x="1369.7" y="293.1" font-family='"Liberation Sans", sans-serif' font-size="10.4" font-weight="normal" fill="#bec1ca" stroke="#bec1ca" stroke-width="0.15" textLength="42.2" lengthAdjust="spacingAndGlyphs">1860.000</text>
<text x="1369.7" y="328.3" font-family='"Liberation Sans", sans-serif' font-size="10.4" font-weight="normal" fill="#bec1ca" stroke="#bec1ca" stroke-width="0.15" textLength="42.2" lengthAdjust="spacingAndGlyphs">1820.000</text>
<text x="1369.7" y="364" font-family='"Liberation Sans", sans-serif' font-size="10.4" font-weight="normal" fill="#bec1ca" stroke="#bec1ca" stroke-width="0.15" textLength="42.2" lengthAdjust="spacingAndGlyphs">1780.000</text>
<text x="1369.7" y="391.6" font-family='"Liberation Sans", sans-serif' font-size="10.4" font-weight="normal" fill="#bec1ca" stroke="#bec1ca" stroke-width="0.15" textLength="42.2" lengthAdjust="spacingAndGlyphs">1750.000</text>
<text x="1369.7" y="418.9" font-family='"Liberation Sans", sans-serif' font-size="10.4" font-weight="normal" fill="#bec1ca" stroke="#bec1ca" stroke-width="0.15" textLength="42.2" lengthAdjust="spacingAndGlyphs">1720.000</text>
<text x="1369.7" y="447" font-family='"Liberation Sans", sans-serif' font-size="10.4" font-weight="normal" fill="#bec1ca" stroke="#bec1ca" stroke-width="0.15" textLength="42.2" lengthAdjust="spacingAndGlyphs">1690.000</text>
<text x="1369.7" y="475.8" font-family='"Liberation Sans", sans-serif' font-size="10.4" font-weight="normal" fill="#bec1ca" stroke="#bec1ca" stroke-width="0.15" textLength="42.2" lengthAdjust="spacingAndGlyphs">1660.000</text>
<text x="1369.7" y="503.5" font-family='"Liberation Sans", sans-serif' font-size="10.4" font-weight="normal" fill="#bec1ca" stroke="#bec1ca" stroke-width="0.15" textLength="42.2" lengthAdjust="spacingAndGlyphs">1632.000</text>
<text x="1369.7" y="530.8" font-family='"Liberation Sans", sans-serif' font-size="10.4" font-weight="normal" fill="#bec1ca" stroke="#bec1ca" stroke-width="0.15" textLength="42.2" lengthAdjust="spacingAndGlyphs">1604.500</text>
<text x="1369.7" y="552.6" font-family='"Liberation Sans", sans-serif' font-size="10.4" font-weight="normal" fill="#bec1ca" stroke="#bec1ca" stroke-width="0.15" textLength="25.3" lengthAdjust="spacingAndGlyphs">80.00</text>
<text x="1369.7" y="593" font-family='"Liberation Sans", sans-serif' font-size="10.4" font-weight="normal" fill="#bec1ca" stroke="#bec1ca" stroke-width="0.15" textLength="25.3" lengthAdjust="spacingAndGlyphs">60.00</text>
<text x="1369.7" y="633.2" font-family='"Liberation Sans", sans-serif' font-size="10.4" font-weight="normal" fill="#bec1ca" stroke="#bec1ca" stroke-width="0.15" textLength="25.3" lengthAdjust="spacingAndGlyphs">40.00</text>
<text x="1369.7" y="673.6" font-family='"Liberation Sans", sans-serif' font-size="10.4" font-weight="normal" fill="#bec1ca" stroke="#bec1ca" stroke-width="0.15" textLength="25.3" lengthAdjust="spacingAndGlyphs">20.00</text>
<rect x="1362" y="49.2" width="54.7" height="15.4" rx="1.5" fill="#ffffff"/>
<text x="1369.7" y="60.5" font-family='"Liberation Sans", sans-serif' font-size="10.4" font-weight="normal" fill="#131722" stroke="#131722" stroke-width="0.25" textLength="42.2" lengthAdjust="spacingAndGlyphs">2150.700</text>
<rect x="1362" y="327.9" width="54.7" height="14.7" rx="1.5" fill="#ffffff"/>
<text x="1369.7" y="338.8" font-family='"Liberation Sans", sans-serif' font-size="10.4" font-weight="normal" fill="#131722" stroke="#131722" stroke-width="0.25" textLength="42.2" lengthAdjust="spacingAndGlyphs">1808.526</text>
<rect x="1316" y="138.5" width="45.2" height="15.7" rx="1.5" fill="#ef5350"/>
<rect x="1361.8" y="138.5" width="55.4" height="15.7" rx="1.5" fill="#ef5350"/>
<rect x="1361.1" y="138.5" width="0.8" height="15.7" fill="#c9403d"/>
<text x="1320.2" y="150" font-family='"Liberation Sans", sans-serif' font-size="10.0" font-weight="normal" fill="#ffffff" stroke="#ffffff" stroke-width="0.2" textLength="36.9" lengthAdjust="spacingAndGlyphs">XAUUSD</text>
<text x="1369.7" y="150.2" font-family='"Liberation Sans", sans-serif' font-size="10.4" font-weight="normal" fill="#ffffff" stroke="#ffffff" stroke-width="0.2" textLength="41.9" lengthAdjust="spacingAndGlyphs">2033.825</text>
<text x="43" y="700" font-family='"Liberation Sans", sans-serif' font-size="11" font-weight="normal" fill="#c3c6ce" stroke="#c3c6ce" stroke-width="0.2" textLength="17.4" lengthAdjust="spacingAndGlyphs">Aug</text>
<text x="115.7" y="700" font-family='"Liberation Sans", sans-serif' font-size="11" font-weight="normal" fill="#c3c6ce" stroke="#c3c6ce" stroke-width="0.2" textLength="16.7" lengthAdjust="spacingAndGlyphs">Sep</text>
<text x="250.7" y="700" font-family='"Liberation Sans", sans-serif' font-size="11" font-weight="normal" fill="#c3c6ce" stroke="#c3c6ce" stroke-width="0.2" textLength="17.3" lengthAdjust="spacingAndGlyphs">Nov</text>
<text x="382.9" y="700" font-family='"Liberation Sans", sans-serif' font-size="11" font-weight="normal" fill="#c3c6ce" stroke="#c3c6ce" stroke-width="0.2" textLength="23.1" lengthAdjust="spacingAndGlyphs">2023</text>
<text x="514.6" y="700" font-family='"Liberation Sans", sans-serif' font-size="11" font-weight="normal" fill="#c3c6ce" stroke="#c3c6ce" stroke-width="0.2" textLength="16.9" lengthAdjust="spacingAndGlyphs">Mar</text>
<text x="587.8" y="700" font-family='"Liberation Sans", sans-serif' font-size="11" font-weight="normal" fill="#c3c6ce" stroke="#c3c6ce" stroke-width="0.2" textLength="16.2" lengthAdjust="spacingAndGlyphs">Apr</text>
<text x="720" y="700" font-family='"Liberation Sans", sans-serif' font-size="11" font-weight="normal" fill="#c3c6ce" stroke="#c3c6ce" stroke-width="0.2" textLength="16" lengthAdjust="spacingAndGlyphs">Jun</text>
<text x="854.3" y="700" font-family='"Liberation Sans", sans-serif' font-size="11" font-weight="normal" fill="#c3c6ce" stroke="#c3c6ce" stroke-width="0.2" textLength="17.2" lengthAdjust="spacingAndGlyphs">Aug</text>
<text x="927" y="700" font-family='"Liberation Sans", sans-serif' font-size="11" font-weight="normal" fill="#c3c6ce" stroke="#c3c6ce" stroke-width="0.2" textLength="16.8" lengthAdjust="spacingAndGlyphs">Sep</text>
<text x="1061.9" y="700" font-family='"Liberation Sans", sans-serif' font-size="11" font-weight="normal" fill="#c3c6ce" stroke="#c3c6ce" stroke-width="0.2" textLength="17.1" lengthAdjust="spacingAndGlyphs">Nov</text>
<text x="1190.9" y="700" font-family='"Liberation Sans", sans-serif' font-size="11" font-weight="normal" fill="#c3c6ce" stroke="#c3c6ce" stroke-width="0.2" textLength="24" lengthAdjust="spacingAndGlyphs">2024</text>
<text x="1329.4" y="700" font-family='"Liberation Sans", sans-serif' font-size="11" font-weight="normal" fill="#c3c6ce" stroke="#c3c6ce" stroke-width="0.2" textLength="17" lengthAdjust="spacingAndGlyphs">Mar</text>
<g fill="none" stroke="#b44fc4" stroke-width="1.25"><circle cx="1288" cy="532.1" r="8.5"/><path d="M1290.4 527.2l-6.3 5.9h3.3l-2.6 4.9 6.4-6.1h-3.3z" fill="#b44fc4" stroke="none"/></g>
<circle cx="1294.2" cy="526.2" r="2.8" fill="#f23645" stroke="#161a25" stroke-width="1"/>
<g fill="#d1d4dc"><path d="M8.9 718.4h7v8.5h-3.8v-5.1h-3.2z"/><circle cx="18.3" cy="720.2" r="1.7"/><path d="M21.4 718.4h4.6l-3.7 8.5h-4.3z"/></g>
<text x="29.7" y="727.4" font-family='"Liberation Sans", sans-serif' font-size="11" font-weight="normal" fill="#d1d4dc" stroke="#d1d4dc" stroke-width="0.4" textLength="61.5" lengthAdjust="spacingAndGlyphs">TradingView</text></svg>
</body></html>
